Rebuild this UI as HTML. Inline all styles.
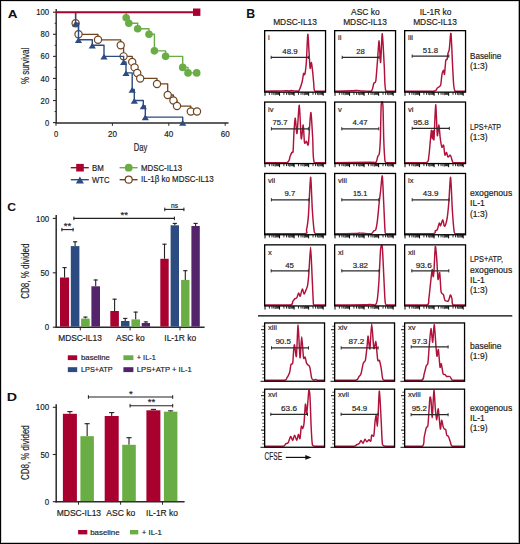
<!DOCTYPE html><html><head><meta charset="utf-8"><style>html,body{margin:0;padding:0;background:#fff;}svg{display:block;}text{font-family:"Liberation Sans",sans-serif;}</style></head><body>
<svg width="520" height="544" viewBox="0 0 520 544">
<rect x="0" y="0" width="520" height="544" fill="#fff"/>
<text x="7.7" y="17.8" font-size="11.8" textLength="9.8" lengthAdjust="spacingAndGlyphs" font-weight="bold" fill="#111">A</text>
<line x1="56.2" y1="9" x2="56.2" y2="123.2" stroke="#2a2a2a" stroke-width="1.4"/>
<line x1="55.5" y1="123" x2="228.5" y2="123" stroke="#2a2a2a" stroke-width="1.4"/>
<line x1="53" y1="122.6" x2="56.2" y2="122.6" stroke="#2a2a2a" stroke-width="1.1"/>
<text x="49.2" y="125.7" font-size="8.6" text-anchor="end" textLength="4.2" lengthAdjust="spacingAndGlyphs" fill="#1c1c1c" stroke="#1c1c1c" stroke-width="0.18">0</text>
<line x1="54.6" y1="111.56" x2="56.2" y2="111.56" stroke="#2a2a2a" stroke-width="1"/>
<line x1="53" y1="100.52" x2="56.2" y2="100.52" stroke="#2a2a2a" stroke-width="1.1"/>
<text x="49.2" y="103.62" font-size="8.6" text-anchor="end" textLength="8.6" lengthAdjust="spacingAndGlyphs" fill="#1c1c1c" stroke="#1c1c1c" stroke-width="0.18">20</text>
<line x1="54.6" y1="89.48" x2="56.2" y2="89.48" stroke="#2a2a2a" stroke-width="1"/>
<line x1="53" y1="78.44" x2="56.2" y2="78.44" stroke="#2a2a2a" stroke-width="1.1"/>
<text x="49.2" y="81.54" font-size="8.6" text-anchor="end" textLength="8.6" lengthAdjust="spacingAndGlyphs" fill="#1c1c1c" stroke="#1c1c1c" stroke-width="0.18">40</text>
<line x1="54.6" y1="67.4" x2="56.2" y2="67.4" stroke="#2a2a2a" stroke-width="1"/>
<line x1="53" y1="56.36" x2="56.2" y2="56.36" stroke="#2a2a2a" stroke-width="1.1"/>
<text x="49.2" y="59.46" font-size="8.6" text-anchor="end" textLength="8.6" lengthAdjust="spacingAndGlyphs" fill="#1c1c1c" stroke="#1c1c1c" stroke-width="0.18">60</text>
<line x1="54.6" y1="45.32" x2="56.2" y2="45.32" stroke="#2a2a2a" stroke-width="1"/>
<line x1="53" y1="34.28" x2="56.2" y2="34.28" stroke="#2a2a2a" stroke-width="1.1"/>
<text x="49.2" y="37.38" font-size="8.6" text-anchor="end" textLength="8.6" lengthAdjust="spacingAndGlyphs" fill="#1c1c1c" stroke="#1c1c1c" stroke-width="0.18">80</text>
<line x1="54.6" y1="23.24" x2="56.2" y2="23.24" stroke="#2a2a2a" stroke-width="1"/>
<line x1="53" y1="12.2" x2="56.2" y2="12.2" stroke="#2a2a2a" stroke-width="1.1"/>
<text x="49.2" y="15.3" font-size="8.6" text-anchor="end" textLength="13" lengthAdjust="spacingAndGlyphs" fill="#1c1c1c" stroke="#1c1c1c" stroke-width="0.18">100</text>
<line x1="56" y1="123" x2="56" y2="125.8" stroke="#2a2a2a" stroke-width="1"/>
<text x="56" y="136.8" font-size="8.4" text-anchor="middle" textLength="4.2" lengthAdjust="spacingAndGlyphs" fill="#1c1c1c" stroke="#1c1c1c" stroke-width="0.18">0</text>
<line x1="112.4" y1="123" x2="112.4" y2="125.8" stroke="#2a2a2a" stroke-width="1"/>
<text x="112.4" y="136.8" font-size="8.4" text-anchor="middle" textLength="9" lengthAdjust="spacingAndGlyphs" fill="#1c1c1c" stroke="#1c1c1c" stroke-width="0.18">20</text>
<line x1="168.8" y1="123" x2="168.8" y2="125.8" stroke="#2a2a2a" stroke-width="1"/>
<text x="168.8" y="136.8" font-size="8.4" text-anchor="middle" textLength="9" lengthAdjust="spacingAndGlyphs" fill="#1c1c1c" stroke="#1c1c1c" stroke-width="0.18">40</text>
<line x1="225.2" y1="123" x2="225.2" y2="125.8" stroke="#2a2a2a" stroke-width="1"/>
<text x="225.2" y="136.8" font-size="8.4" text-anchor="middle" textLength="9" lengthAdjust="spacingAndGlyphs" fill="#1c1c1c" stroke="#1c1c1c" stroke-width="0.18">60</text>
<text x="140.5" y="150.7" font-size="10.2" text-anchor="middle" textLength="13.5" lengthAdjust="spacingAndGlyphs" fill="#1c1c1c" stroke="#1c1c1c" stroke-width="0.18">Day</text>
<text transform="translate(29.3,65.9) rotate(-90)" font-size="10.4" text-anchor="middle" fill="#1c1c1c" stroke="#1c1c1c" stroke-width="0.18" textLength="36.4" lengthAdjust="spacingAndGlyphs">% survival</text>
<polyline points="75.6,12.2 75.6,23.24 78.5,23.24 78.5,34.28 98,34.28 98,39.8 120.7,39.8 120.7,45.32 123.6,45.32 123.6,56.36 132.2,56.36 132.2,61.88 134.6,61.88 134.6,67.4 137.2,67.4 137.2,72.92 140.2,72.92 140.2,78.44 157,78.44 157,83.96 167.7,83.96 167.7,95 173.4,95 173.4,100.52 177,100.52 177,106.04 190.8,106.04 190.8,111.56 197,111.56" fill="none" stroke="#6f4520" stroke-width="1.3" stroke-linejoin="round"/>
<circle cx="75.6" cy="23.24" r="3.6" fill="#fff" stroke="#6f4520" stroke-width="1.2"/>
<circle cx="78.5" cy="34.28" r="3.6" fill="#fff" stroke="#6f4520" stroke-width="1.2"/>
<circle cx="98" cy="39.8" r="3.6" fill="#fff" stroke="#6f4520" stroke-width="1.2"/>
<circle cx="120.7" cy="45.32" r="3.6" fill="#fff" stroke="#6f4520" stroke-width="1.2"/>
<circle cx="123.6" cy="56.36" r="3.6" fill="#fff" stroke="#6f4520" stroke-width="1.2"/>
<circle cx="132.2" cy="61.88" r="3.6" fill="#fff" stroke="#6f4520" stroke-width="1.2"/>
<circle cx="134.6" cy="67.4" r="3.6" fill="#fff" stroke="#6f4520" stroke-width="1.2"/>
<circle cx="137.2" cy="72.92" r="3.6" fill="#fff" stroke="#6f4520" stroke-width="1.2"/>
<circle cx="140.2" cy="78.44" r="3.6" fill="#fff" stroke="#6f4520" stroke-width="1.2"/>
<circle cx="157" cy="83.96" r="3.6" fill="#fff" stroke="#6f4520" stroke-width="1.2"/>
<circle cx="167.7" cy="95" r="3.6" fill="#fff" stroke="#6f4520" stroke-width="1.2"/>
<circle cx="173.4" cy="100.52" r="3.6" fill="#fff" stroke="#6f4520" stroke-width="1.2"/>
<circle cx="177" cy="106.04" r="3.6" fill="#fff" stroke="#6f4520" stroke-width="1.2"/>
<circle cx="190.8" cy="111.56" r="3.6" fill="#fff" stroke="#6f4520" stroke-width="1.2"/>
<circle cx="197" cy="111.56" r="3.6" fill="#fff" stroke="#6f4520" stroke-width="1.2"/>
<polyline points="75.6,12.2 75.6,23.24 78.5,23.24 78.5,39.8 92.3,39.8 92.3,45.32 104,45.32 104,56.36 123.6,56.36 123.6,61.88 126,61.88 126,72.92 132.2,72.92 132.2,89.48 134.3,89.48 134.3,100.52 143.3,100.52 143.3,106.04 145.3,106.04 145.3,117.08 182.7,117.08 182.7,122.6" fill="none" stroke="#2c4b80" stroke-width="1.4" stroke-linejoin="round"/>
<polygon points="72,26.44 79.2,26.44 75.6,20.74" fill="#2c4b80"/>
<polygon points="74.9,43 82.1,43 78.5,37.3" fill="#2c4b80"/>
<polygon points="88.7,48.52 95.9,48.52 92.3,42.82" fill="#2c4b80"/>
<polygon points="100.4,59.56 107.6,59.56 104,53.86" fill="#2c4b80"/>
<polygon points="120,65.08 127.2,65.08 123.6,59.38" fill="#2c4b80"/>
<polygon points="122.4,76.12 129.6,76.12 126,70.42" fill="#2c4b80"/>
<polygon points="128.6,92.68 135.8,92.68 132.2,86.98" fill="#2c4b80"/>
<polygon points="130.7,103.72 137.9,103.72 134.3,98.02" fill="#2c4b80"/>
<polygon points="139.7,109.24 146.9,109.24 143.3,103.54" fill="#2c4b80"/>
<polygon points="141.7,120.28 148.9,120.28 145.3,114.58" fill="#2c4b80"/>
<polygon points="179.1,125.8 186.3,125.8 182.7,120.1" fill="#2c4b80"/>
<polyline points="126.2,12.2 126.2,17.72 128.8,17.72 128.8,23.24 137.7,23.24 137.7,28.76 149,28.76 149,34.28 154.4,34.28 154.4,50.84 165.6,50.84 165.6,56.36 182.7,56.36 182.7,67.4 188,67.4 188,72.92 196.7,72.92" fill="none" stroke="#6aad45" stroke-width="1.4" stroke-linejoin="round"/>
<circle cx="126.2" cy="17.72" r="3.8" fill="#6aad45"/>
<circle cx="128.8" cy="23.24" r="3.8" fill="#6aad45"/>
<circle cx="137.7" cy="28.76" r="3.8" fill="#6aad45"/>
<circle cx="149" cy="34.28" r="3.8" fill="#6aad45"/>
<circle cx="154.4" cy="50.84" r="3.8" fill="#6aad45"/>
<circle cx="165.6" cy="56.36" r="3.8" fill="#6aad45"/>
<circle cx="182.7" cy="67.4" r="3.8" fill="#6aad45"/>
<circle cx="188" cy="72.92" r="3.8" fill="#6aad45"/>
<circle cx="196.7" cy="72.92" r="3.8" fill="#6aad45"/>
<line x1="56.2" y1="12.2" x2="196.7" y2="12.2" stroke="#a8002f" stroke-width="1.9"/>
<rect x="193" y="8.5" width="7.4" height="7.4" fill="#a8002f"/>
<line x1="70.8" y1="167.7" x2="88.8" y2="167.7" stroke="#a8002f" stroke-width="1.4"/>
<rect x="76.2" y="163.9" width="7.6" height="7.6" fill="#a8002f"/>
<text x="92" y="170.9" font-size="8.6" textLength="11.8" lengthAdjust="spacingAndGlyphs" fill="#1c1c1c" stroke="#1c1c1c" stroke-width="0.18">BM</text>
<line x1="70.8" y1="179.7" x2="88.8" y2="179.7" stroke="#2c4b80" stroke-width="1.4"/>
<polygon points="75.9,183.6 83.9,183.6 79.9,176.5" fill="#2c4b80"/>
<text x="92" y="182.9" font-size="8.6" textLength="17.6" lengthAdjust="spacingAndGlyphs" fill="#1c1c1c" stroke="#1c1c1c" stroke-width="0.18">WTC</text>
<line x1="119.6" y1="167.7" x2="137.6" y2="167.7" stroke="#6aad45" stroke-width="1.4"/>
<circle cx="128.7" cy="167.7" r="3.9" fill="#6aad45"/>
<text x="141" y="170.7" font-size="8.6" textLength="41" lengthAdjust="spacingAndGlyphs" fill="#1c1c1c" stroke="#1c1c1c" stroke-width="0.18">MDSC-IL13</text>
<line x1="119.6" y1="179.7" x2="137.6" y2="179.7" stroke="#6f4520" stroke-width="1.4"/>
<circle cx="128.7" cy="179.7" r="3.5" fill="#fff" stroke="#6f4520" stroke-width="1.2"/>
<text x="141" y="182" font-size="8.6" textLength="72.7" lengthAdjust="spacingAndGlyphs" fill="#1c1c1c" stroke="#1c1c1c" stroke-width="0.18">IL-1β ko MDSC-IL13</text>
<text x="246.3" y="17.6" font-size="12" textLength="8.9" lengthAdjust="spacingAndGlyphs" font-weight="bold" fill="#111">B</text>
<text x="295" y="25" font-size="8.6" text-anchor="middle" textLength="43.7" lengthAdjust="spacingAndGlyphs" fill="#1c1c1c" stroke="#1c1c1c" stroke-width="0.18">MDSC-IL13</text>
<text x="365.4" y="14.8" font-size="8.6" text-anchor="middle" textLength="28.6" lengthAdjust="spacingAndGlyphs" fill="#1c1c1c" stroke="#1c1c1c" stroke-width="0.18">ASC ko</text>
<text x="365" y="25" font-size="8.6" text-anchor="middle" textLength="43.7" lengthAdjust="spacingAndGlyphs" fill="#1c1c1c" stroke="#1c1c1c" stroke-width="0.18">MDSC-IL13</text>
<text x="435.6" y="14.8" font-size="8.6" text-anchor="middle" textLength="31.6" lengthAdjust="spacingAndGlyphs" fill="#1c1c1c" stroke="#1c1c1c" stroke-width="0.18">IL-1R ko</text>
<text x="435" y="25" font-size="8.6" text-anchor="middle" textLength="43.7" lengthAdjust="spacingAndGlyphs" fill="#1c1c1c" stroke="#1c1c1c" stroke-width="0.18">MDSC-IL13</text>
<text x="470" y="58.9" font-size="8.6" textLength="31.3" lengthAdjust="spacingAndGlyphs" fill="#1c1c1c" stroke="#1c1c1c" stroke-width="0.18">Baseline</text>
<text x="470" y="69.2" font-size="8.6" textLength="17.5" lengthAdjust="spacingAndGlyphs" fill="#1c1c1c" stroke="#1c1c1c" stroke-width="0.18">(1:3)</text>
<text x="470" y="130" font-size="8.6" textLength="31" lengthAdjust="spacingAndGlyphs" fill="#1c1c1c" stroke="#1c1c1c" stroke-width="0.18">LPS+ATP</text>
<text x="470" y="140.3" font-size="8.6" textLength="17.5" lengthAdjust="spacingAndGlyphs" fill="#1c1c1c" stroke="#1c1c1c" stroke-width="0.18">(1:3)</text>
<text x="470" y="195.9" font-size="8.6" textLength="42.2" lengthAdjust="spacingAndGlyphs" fill="#1c1c1c" stroke="#1c1c1c" stroke-width="0.18">exogenous</text>
<text x="470" y="206.2" font-size="8.6" textLength="14.8" lengthAdjust="spacingAndGlyphs" fill="#1c1c1c" stroke="#1c1c1c" stroke-width="0.18">IL-1</text>
<text x="470" y="216.5" font-size="8.6" textLength="17.5" lengthAdjust="spacingAndGlyphs" fill="#1c1c1c" stroke="#1c1c1c" stroke-width="0.18">(1:3)</text>
<text x="470" y="262.4" font-size="8.6" textLength="33" lengthAdjust="spacingAndGlyphs" fill="#1c1c1c" stroke="#1c1c1c" stroke-width="0.18">LPS+ATP,</text>
<text x="470" y="272.7" font-size="8.6" textLength="42.2" lengthAdjust="spacingAndGlyphs" fill="#1c1c1c" stroke="#1c1c1c" stroke-width="0.18">exogenous</text>
<text x="470" y="283" font-size="8.6" textLength="14.8" lengthAdjust="spacingAndGlyphs" fill="#1c1c1c" stroke="#1c1c1c" stroke-width="0.18">IL-1</text>
<text x="470" y="293.3" font-size="8.6" textLength="17.5" lengthAdjust="spacingAndGlyphs" fill="#1c1c1c" stroke="#1c1c1c" stroke-width="0.18">(1:3)</text>
<text x="470" y="349" font-size="8.6" textLength="31.5" lengthAdjust="spacingAndGlyphs" fill="#1c1c1c" stroke="#1c1c1c" stroke-width="0.18">baseline</text>
<text x="470" y="359.3" font-size="8.6" textLength="17.5" lengthAdjust="spacingAndGlyphs" fill="#1c1c1c" stroke="#1c1c1c" stroke-width="0.18">(1:9)</text>
<text x="470" y="410.6" font-size="8.6" textLength="42.2" lengthAdjust="spacingAndGlyphs" fill="#1c1c1c" stroke="#1c1c1c" stroke-width="0.18">exogenous</text>
<text x="470" y="420.9" font-size="8.6" textLength="14.8" lengthAdjust="spacingAndGlyphs" fill="#1c1c1c" stroke="#1c1c1c" stroke-width="0.18">IL-1</text>
<text x="470" y="431.2" font-size="8.6" textLength="17.5" lengthAdjust="spacingAndGlyphs" fill="#1c1c1c" stroke="#1c1c1c" stroke-width="0.18">(1:9)</text>
<line x1="258" y1="315.8" x2="512.3" y2="315.8" stroke="#000" stroke-width="1.2"/>
<path d="M265,91.2 C267.27,91.16 279.2,90.98 282,90.9 C284.8,90.82 285.07,90.6 286,90.6 C286.93,90.6 288.2,90.9 289,90.9 C289.8,90.9 291.07,90.59 292,90.6 C292.93,90.61 295.12,90.92 296,91 C296.88,91.08 297.81,91.2 298.6,91.2 C299.39,90.11 301.23,85.15 301.9,82.8 C302.57,80.45 303.2,74.75 303.6,73.6 C304,72.45 304.53,75.85 304.9,74.2 C305.27,72.55 306.01,66.53 306.4,61.2 C306.79,55.87 307.45,35.53 307.8,34.2 C308.15,32.87 308.69,46.67 309,51.2 C309.31,55.73 309.78,66.69 310.1,68.2 C310.42,69.71 311.07,62.1 311.4,62.5 C311.73,62.9 312.29,68.49 312.6,71.2 C312.91,73.91 313.38,80.13 313.7,82.8 C314.02,85.47 313.47,90.08 315,91.2 C316.53,91.2 323.84,91.2 325.2,91.2" fill="none" stroke="#b0123c" stroke-width="1.45" stroke-linejoin="round"/>
<rect x="264.65" y="30.65" width="60.9" height="61.5" fill="none" stroke="#000" stroke-width="1.3"/>
<line x1="265" y1="92.3" x2="265" y2="95.8" stroke="#000" stroke-width="1"/>
<line x1="269.38" y1="92.3" x2="269.38" y2="94.8" stroke="#111" stroke-width="0.9"/>
<line x1="271.94" y1="92.3" x2="271.94" y2="94.8" stroke="#111" stroke-width="0.9"/>
<line x1="273.76" y1="92.3" x2="273.76" y2="94.8" stroke="#111" stroke-width="0.9"/>
<line x1="275.17" y1="92.3" x2="275.17" y2="95.2" stroke="#111" stroke-width="0.9"/>
<line x1="276.32" y1="92.3" x2="276.32" y2="94.8" stroke="#111" stroke-width="0.9"/>
<line x1="277.3" y1="92.3" x2="277.3" y2="94.8" stroke="#111" stroke-width="0.9"/>
<line x1="278.14" y1="92.3" x2="278.14" y2="94.8" stroke="#111" stroke-width="0.9"/>
<line x1="278.88" y1="92.3" x2="278.88" y2="94.8" stroke="#111" stroke-width="0.9"/>
<line x1="279.55" y1="92.3" x2="279.55" y2="95.8" stroke="#000" stroke-width="1"/>
<line x1="283.93" y1="92.3" x2="283.93" y2="94.8" stroke="#111" stroke-width="0.9"/>
<line x1="286.49" y1="92.3" x2="286.49" y2="94.8" stroke="#111" stroke-width="0.9"/>
<line x1="288.31" y1="92.3" x2="288.31" y2="94.8" stroke="#111" stroke-width="0.9"/>
<line x1="289.72" y1="92.3" x2="289.72" y2="95.2" stroke="#111" stroke-width="0.9"/>
<line x1="290.87" y1="92.3" x2="290.87" y2="94.8" stroke="#111" stroke-width="0.9"/>
<line x1="291.85" y1="92.3" x2="291.85" y2="94.8" stroke="#111" stroke-width="0.9"/>
<line x1="292.69" y1="92.3" x2="292.69" y2="94.8" stroke="#111" stroke-width="0.9"/>
<line x1="293.43" y1="92.3" x2="293.43" y2="94.8" stroke="#111" stroke-width="0.9"/>
<line x1="294.1" y1="92.3" x2="294.1" y2="95.8" stroke="#000" stroke-width="1"/>
<line x1="298.48" y1="92.3" x2="298.48" y2="94.8" stroke="#111" stroke-width="0.9"/>
<line x1="301.04" y1="92.3" x2="301.04" y2="94.8" stroke="#111" stroke-width="0.9"/>
<line x1="302.86" y1="92.3" x2="302.86" y2="94.8" stroke="#111" stroke-width="0.9"/>
<line x1="304.27" y1="92.3" x2="304.27" y2="95.2" stroke="#111" stroke-width="0.9"/>
<line x1="305.42" y1="92.3" x2="305.42" y2="94.8" stroke="#111" stroke-width="0.9"/>
<line x1="306.4" y1="92.3" x2="306.4" y2="94.8" stroke="#111" stroke-width="0.9"/>
<line x1="307.24" y1="92.3" x2="307.24" y2="94.8" stroke="#111" stroke-width="0.9"/>
<line x1="307.98" y1="92.3" x2="307.98" y2="94.8" stroke="#111" stroke-width="0.9"/>
<line x1="308.65" y1="92.3" x2="308.65" y2="95.8" stroke="#000" stroke-width="1"/>
<line x1="313.03" y1="92.3" x2="313.03" y2="94.8" stroke="#111" stroke-width="0.9"/>
<line x1="315.59" y1="92.3" x2="315.59" y2="94.8" stroke="#111" stroke-width="0.9"/>
<line x1="317.41" y1="92.3" x2="317.41" y2="94.8" stroke="#111" stroke-width="0.9"/>
<line x1="318.82" y1="92.3" x2="318.82" y2="95.2" stroke="#111" stroke-width="0.9"/>
<line x1="319.97" y1="92.3" x2="319.97" y2="94.8" stroke="#111" stroke-width="0.9"/>
<line x1="320.95" y1="92.3" x2="320.95" y2="94.8" stroke="#111" stroke-width="0.9"/>
<line x1="321.79" y1="92.3" x2="321.79" y2="94.8" stroke="#111" stroke-width="0.9"/>
<line x1="322.53" y1="92.3" x2="322.53" y2="94.8" stroke="#111" stroke-width="0.9"/>
<line x1="323.2" y1="92.3" x2="323.2" y2="95.8" stroke="#000" stroke-width="1"/>
<line x1="271.2" y1="57.4" x2="308.4" y2="57.4" stroke="#2a2a2a" stroke-width="1.2"/>
<line x1="271.2" y1="55.8" x2="271.2" y2="59" stroke="#2a2a2a" stroke-width="1"/>
<line x1="308.4" y1="55.8" x2="308.4" y2="59" stroke="#2a2a2a" stroke-width="1"/>
<text x="290" y="53.5" font-size="7.9" text-anchor="middle" textLength="15.3" lengthAdjust="spacingAndGlyphs" fill="#222" stroke="#222" stroke-width="0.18">48.9</text>
<text x="268" y="40.4" font-size="7.6" fill="#2a2a2a" stroke="#2a2a2a" stroke-width="0.18">i</text>
<path d="M335,91.2 C337.27,91.15 349.07,90.91 352,90.8 C354.93,90.69 355.67,90.39 357,90.4 C358.33,90.41 360.11,90.79 362,90.9 C363.89,91.01 369.63,91.2 371.2,91.2 C372.77,90.2 373.19,84.79 373.8,83.4 C374.41,82.01 375.31,83.85 375.8,80.8 C376.29,77.75 377.06,65.83 377.5,60.5 C377.94,55.17 378.69,40.53 379.1,40.8 C379.51,41.07 380.17,63.45 380.6,62.5 C381.03,61.55 381.81,33.1 382.3,33.7 C382.79,34.3 383.82,59.33 384.3,67 C384.78,74.67 384.45,87.97 385.9,91.2 C387.35,91.2 393.96,91.2 395.2,91.2" fill="none" stroke="#b0123c" stroke-width="1.45" stroke-linejoin="round"/>
<rect x="334.65" y="30.65" width="60.9" height="61.5" fill="none" stroke="#000" stroke-width="1.3"/>
<line x1="335" y1="92.3" x2="335" y2="95.8" stroke="#000" stroke-width="1"/>
<line x1="339.38" y1="92.3" x2="339.38" y2="94.8" stroke="#111" stroke-width="0.9"/>
<line x1="341.94" y1="92.3" x2="341.94" y2="94.8" stroke="#111" stroke-width="0.9"/>
<line x1="343.76" y1="92.3" x2="343.76" y2="94.8" stroke="#111" stroke-width="0.9"/>
<line x1="345.17" y1="92.3" x2="345.17" y2="95.2" stroke="#111" stroke-width="0.9"/>
<line x1="346.32" y1="92.3" x2="346.32" y2="94.8" stroke="#111" stroke-width="0.9"/>
<line x1="347.3" y1="92.3" x2="347.3" y2="94.8" stroke="#111" stroke-width="0.9"/>
<line x1="348.14" y1="92.3" x2="348.14" y2="94.8" stroke="#111" stroke-width="0.9"/>
<line x1="348.88" y1="92.3" x2="348.88" y2="94.8" stroke="#111" stroke-width="0.9"/>
<line x1="349.55" y1="92.3" x2="349.55" y2="95.8" stroke="#000" stroke-width="1"/>
<line x1="353.93" y1="92.3" x2="353.93" y2="94.8" stroke="#111" stroke-width="0.9"/>
<line x1="356.49" y1="92.3" x2="356.49" y2="94.8" stroke="#111" stroke-width="0.9"/>
<line x1="358.31" y1="92.3" x2="358.31" y2="94.8" stroke="#111" stroke-width="0.9"/>
<line x1="359.72" y1="92.3" x2="359.72" y2="95.2" stroke="#111" stroke-width="0.9"/>
<line x1="360.87" y1="92.3" x2="360.87" y2="94.8" stroke="#111" stroke-width="0.9"/>
<line x1="361.85" y1="92.3" x2="361.85" y2="94.8" stroke="#111" stroke-width="0.9"/>
<line x1="362.69" y1="92.3" x2="362.69" y2="94.8" stroke="#111" stroke-width="0.9"/>
<line x1="363.43" y1="92.3" x2="363.43" y2="94.8" stroke="#111" stroke-width="0.9"/>
<line x1="364.1" y1="92.3" x2="364.1" y2="95.8" stroke="#000" stroke-width="1"/>
<line x1="368.48" y1="92.3" x2="368.48" y2="94.8" stroke="#111" stroke-width="0.9"/>
<line x1="371.04" y1="92.3" x2="371.04" y2="94.8" stroke="#111" stroke-width="0.9"/>
<line x1="372.86" y1="92.3" x2="372.86" y2="94.8" stroke="#111" stroke-width="0.9"/>
<line x1="374.27" y1="92.3" x2="374.27" y2="95.2" stroke="#111" stroke-width="0.9"/>
<line x1="375.42" y1="92.3" x2="375.42" y2="94.8" stroke="#111" stroke-width="0.9"/>
<line x1="376.4" y1="92.3" x2="376.4" y2="94.8" stroke="#111" stroke-width="0.9"/>
<line x1="377.24" y1="92.3" x2="377.24" y2="94.8" stroke="#111" stroke-width="0.9"/>
<line x1="377.98" y1="92.3" x2="377.98" y2="94.8" stroke="#111" stroke-width="0.9"/>
<line x1="378.65" y1="92.3" x2="378.65" y2="95.8" stroke="#000" stroke-width="1"/>
<line x1="383.03" y1="92.3" x2="383.03" y2="94.8" stroke="#111" stroke-width="0.9"/>
<line x1="385.59" y1="92.3" x2="385.59" y2="94.8" stroke="#111" stroke-width="0.9"/>
<line x1="387.41" y1="92.3" x2="387.41" y2="94.8" stroke="#111" stroke-width="0.9"/>
<line x1="388.82" y1="92.3" x2="388.82" y2="95.2" stroke="#111" stroke-width="0.9"/>
<line x1="389.97" y1="92.3" x2="389.97" y2="94.8" stroke="#111" stroke-width="0.9"/>
<line x1="390.95" y1="92.3" x2="390.95" y2="94.8" stroke="#111" stroke-width="0.9"/>
<line x1="391.79" y1="92.3" x2="391.79" y2="94.8" stroke="#111" stroke-width="0.9"/>
<line x1="392.53" y1="92.3" x2="392.53" y2="94.8" stroke="#111" stroke-width="0.9"/>
<line x1="393.2" y1="92.3" x2="393.2" y2="95.8" stroke="#000" stroke-width="1"/>
<line x1="342.2" y1="57.4" x2="379.1" y2="57.4" stroke="#2a2a2a" stroke-width="1.2"/>
<line x1="342.2" y1="55.8" x2="342.2" y2="59" stroke="#2a2a2a" stroke-width="1"/>
<line x1="379.1" y1="55.8" x2="379.1" y2="59" stroke="#2a2a2a" stroke-width="1"/>
<text x="360.4" y="53.5" font-size="7.9" text-anchor="middle" textLength="8.5" lengthAdjust="spacingAndGlyphs" fill="#222" stroke="#222" stroke-width="0.18">28</text>
<text x="338" y="40.4" font-size="7.6" fill="#2a2a2a" stroke="#2a2a2a" stroke-width="0.18">ii</text>
<path d="M405,91.2 C408.79,91.2 429.09,91.2 433.4,91.2 C437.71,90.77 436.34,88.79 437.3,88 C438.26,87.21 439.99,87.06 440.6,85.3 C441.21,83.54 441.5,76.8 441.9,74.8 C442.3,72.8 443.25,70.38 443.6,70.3 C443.95,70.22 444.21,75.51 444.5,74.2 C444.79,72.89 445.45,62.5 445.8,60.5 C446.15,58.5 446.81,60.16 447.1,59.2 C447.39,58.24 447.71,54.61 448,53.3 C448.29,51.99 448.9,52.01 449.3,49.4 C449.7,46.79 450.51,30.47 451,33.7 C451.49,36.93 452.47,65.93 453,73.6 C453.53,81.27 453.37,88.85 455,91.2 C456.63,91.2 463.84,91.2 465.2,91.2" fill="none" stroke="#b0123c" stroke-width="1.45" stroke-linejoin="round"/>
<rect x="404.65" y="30.65" width="60.9" height="61.5" fill="none" stroke="#000" stroke-width="1.3"/>
<line x1="405" y1="92.3" x2="405" y2="95.8" stroke="#000" stroke-width="1"/>
<line x1="409.38" y1="92.3" x2="409.38" y2="94.8" stroke="#111" stroke-width="0.9"/>
<line x1="411.94" y1="92.3" x2="411.94" y2="94.8" stroke="#111" stroke-width="0.9"/>
<line x1="413.76" y1="92.3" x2="413.76" y2="94.8" stroke="#111" stroke-width="0.9"/>
<line x1="415.17" y1="92.3" x2="415.17" y2="95.2" stroke="#111" stroke-width="0.9"/>
<line x1="416.32" y1="92.3" x2="416.32" y2="94.8" stroke="#111" stroke-width="0.9"/>
<line x1="417.3" y1="92.3" x2="417.3" y2="94.8" stroke="#111" stroke-width="0.9"/>
<line x1="418.14" y1="92.3" x2="418.14" y2="94.8" stroke="#111" stroke-width="0.9"/>
<line x1="418.88" y1="92.3" x2="418.88" y2="94.8" stroke="#111" stroke-width="0.9"/>
<line x1="419.55" y1="92.3" x2="419.55" y2="95.8" stroke="#000" stroke-width="1"/>
<line x1="423.93" y1="92.3" x2="423.93" y2="94.8" stroke="#111" stroke-width="0.9"/>
<line x1="426.49" y1="92.3" x2="426.49" y2="94.8" stroke="#111" stroke-width="0.9"/>
<line x1="428.31" y1="92.3" x2="428.31" y2="94.8" stroke="#111" stroke-width="0.9"/>
<line x1="429.72" y1="92.3" x2="429.72" y2="95.2" stroke="#111" stroke-width="0.9"/>
<line x1="430.87" y1="92.3" x2="430.87" y2="94.8" stroke="#111" stroke-width="0.9"/>
<line x1="431.85" y1="92.3" x2="431.85" y2="94.8" stroke="#111" stroke-width="0.9"/>
<line x1="432.69" y1="92.3" x2="432.69" y2="94.8" stroke="#111" stroke-width="0.9"/>
<line x1="433.43" y1="92.3" x2="433.43" y2="94.8" stroke="#111" stroke-width="0.9"/>
<line x1="434.1" y1="92.3" x2="434.1" y2="95.8" stroke="#000" stroke-width="1"/>
<line x1="438.48" y1="92.3" x2="438.48" y2="94.8" stroke="#111" stroke-width="0.9"/>
<line x1="441.04" y1="92.3" x2="441.04" y2="94.8" stroke="#111" stroke-width="0.9"/>
<line x1="442.86" y1="92.3" x2="442.86" y2="94.8" stroke="#111" stroke-width="0.9"/>
<line x1="444.27" y1="92.3" x2="444.27" y2="95.2" stroke="#111" stroke-width="0.9"/>
<line x1="445.42" y1="92.3" x2="445.42" y2="94.8" stroke="#111" stroke-width="0.9"/>
<line x1="446.4" y1="92.3" x2="446.4" y2="94.8" stroke="#111" stroke-width="0.9"/>
<line x1="447.24" y1="92.3" x2="447.24" y2="94.8" stroke="#111" stroke-width="0.9"/>
<line x1="447.98" y1="92.3" x2="447.98" y2="94.8" stroke="#111" stroke-width="0.9"/>
<line x1="448.65" y1="92.3" x2="448.65" y2="95.8" stroke="#000" stroke-width="1"/>
<line x1="453.03" y1="92.3" x2="453.03" y2="94.8" stroke="#111" stroke-width="0.9"/>
<line x1="455.59" y1="92.3" x2="455.59" y2="94.8" stroke="#111" stroke-width="0.9"/>
<line x1="457.41" y1="92.3" x2="457.41" y2="94.8" stroke="#111" stroke-width="0.9"/>
<line x1="458.82" y1="92.3" x2="458.82" y2="95.2" stroke="#111" stroke-width="0.9"/>
<line x1="459.97" y1="92.3" x2="459.97" y2="94.8" stroke="#111" stroke-width="0.9"/>
<line x1="460.95" y1="92.3" x2="460.95" y2="94.8" stroke="#111" stroke-width="0.9"/>
<line x1="461.79" y1="92.3" x2="461.79" y2="94.8" stroke="#111" stroke-width="0.9"/>
<line x1="462.53" y1="92.3" x2="462.53" y2="94.8" stroke="#111" stroke-width="0.9"/>
<line x1="463.2" y1="92.3" x2="463.2" y2="95.8" stroke="#000" stroke-width="1"/>
<line x1="412.2" y1="56.1" x2="448.8" y2="56.1" stroke="#2a2a2a" stroke-width="1.2"/>
<line x1="412.2" y1="54.5" x2="412.2" y2="57.7" stroke="#2a2a2a" stroke-width="1"/>
<line x1="448.8" y1="54.5" x2="448.8" y2="57.7" stroke="#2a2a2a" stroke-width="1"/>
<text x="430.4" y="52.6" font-size="7.9" text-anchor="middle" textLength="15.1" lengthAdjust="spacingAndGlyphs" fill="#222" stroke="#222" stroke-width="0.18">51.8</text>
<text x="408" y="40.4" font-size="7.6" fill="#2a2a2a" stroke="#2a2a2a" stroke-width="0.18">iii</text>
<path d="M265,162.6 C267.91,162.6 283.45,162.6 286.8,162.6 C290.15,161.76 289.43,157.66 290.1,156.3 C290.77,154.94 291.4,153.09 291.8,152.4 C292.2,151.71 292.81,153.89 293.1,151.1 C293.39,148.31 293.71,135.89 294,131.5 C294.29,127.11 294.9,117.93 295.3,118.2 C295.7,118.47 296.47,135.22 297,133.5 C297.53,131.78 298.74,104.61 299.3,105.3 C299.86,105.99 300.68,136.07 301.2,138.7 C301.72,141.33 302.76,124.48 303.2,125 C303.64,125.52 304.06,140.43 304.5,142.6 C304.94,144.77 305.98,141.13 306.5,141.3 C307.02,141.47 307.83,147.74 308.4,143.9 C308.97,140.06 310.23,113.29 310.8,112.5 C311.37,111.71 312.23,131.32 312.7,138 C313.17,144.68 312.63,159.32 314.3,162.6 C315.97,162.6 323.75,162.6 325.2,162.6" fill="none" stroke="#b0123c" stroke-width="1.45" stroke-linejoin="round"/>
<rect x="264.65" y="102.05" width="60.9" height="61.5" fill="none" stroke="#000" stroke-width="1.3"/>
<line x1="265" y1="163.7" x2="265" y2="167.2" stroke="#000" stroke-width="1"/>
<line x1="269.38" y1="163.7" x2="269.38" y2="166.2" stroke="#111" stroke-width="0.9"/>
<line x1="271.94" y1="163.7" x2="271.94" y2="166.2" stroke="#111" stroke-width="0.9"/>
<line x1="273.76" y1="163.7" x2="273.76" y2="166.2" stroke="#111" stroke-width="0.9"/>
<line x1="275.17" y1="163.7" x2="275.17" y2="166.6" stroke="#111" stroke-width="0.9"/>
<line x1="276.32" y1="163.7" x2="276.32" y2="166.2" stroke="#111" stroke-width="0.9"/>
<line x1="277.3" y1="163.7" x2="277.3" y2="166.2" stroke="#111" stroke-width="0.9"/>
<line x1="278.14" y1="163.7" x2="278.14" y2="166.2" stroke="#111" stroke-width="0.9"/>
<line x1="278.88" y1="163.7" x2="278.88" y2="166.2" stroke="#111" stroke-width="0.9"/>
<line x1="279.55" y1="163.7" x2="279.55" y2="167.2" stroke="#000" stroke-width="1"/>
<line x1="283.93" y1="163.7" x2="283.93" y2="166.2" stroke="#111" stroke-width="0.9"/>
<line x1="286.49" y1="163.7" x2="286.49" y2="166.2" stroke="#111" stroke-width="0.9"/>
<line x1="288.31" y1="163.7" x2="288.31" y2="166.2" stroke="#111" stroke-width="0.9"/>
<line x1="289.72" y1="163.7" x2="289.72" y2="166.6" stroke="#111" stroke-width="0.9"/>
<line x1="290.87" y1="163.7" x2="290.87" y2="166.2" stroke="#111" stroke-width="0.9"/>
<line x1="291.85" y1="163.7" x2="291.85" y2="166.2" stroke="#111" stroke-width="0.9"/>
<line x1="292.69" y1="163.7" x2="292.69" y2="166.2" stroke="#111" stroke-width="0.9"/>
<line x1="293.43" y1="163.7" x2="293.43" y2="166.2" stroke="#111" stroke-width="0.9"/>
<line x1="294.1" y1="163.7" x2="294.1" y2="167.2" stroke="#000" stroke-width="1"/>
<line x1="298.48" y1="163.7" x2="298.48" y2="166.2" stroke="#111" stroke-width="0.9"/>
<line x1="301.04" y1="163.7" x2="301.04" y2="166.2" stroke="#111" stroke-width="0.9"/>
<line x1="302.86" y1="163.7" x2="302.86" y2="166.2" stroke="#111" stroke-width="0.9"/>
<line x1="304.27" y1="163.7" x2="304.27" y2="166.6" stroke="#111" stroke-width="0.9"/>
<line x1="305.42" y1="163.7" x2="305.42" y2="166.2" stroke="#111" stroke-width="0.9"/>
<line x1="306.4" y1="163.7" x2="306.4" y2="166.2" stroke="#111" stroke-width="0.9"/>
<line x1="307.24" y1="163.7" x2="307.24" y2="166.2" stroke="#111" stroke-width="0.9"/>
<line x1="307.98" y1="163.7" x2="307.98" y2="166.2" stroke="#111" stroke-width="0.9"/>
<line x1="308.65" y1="163.7" x2="308.65" y2="167.2" stroke="#000" stroke-width="1"/>
<line x1="313.03" y1="163.7" x2="313.03" y2="166.2" stroke="#111" stroke-width="0.9"/>
<line x1="315.59" y1="163.7" x2="315.59" y2="166.2" stroke="#111" stroke-width="0.9"/>
<line x1="317.41" y1="163.7" x2="317.41" y2="166.2" stroke="#111" stroke-width="0.9"/>
<line x1="318.82" y1="163.7" x2="318.82" y2="166.6" stroke="#111" stroke-width="0.9"/>
<line x1="319.97" y1="163.7" x2="319.97" y2="166.2" stroke="#111" stroke-width="0.9"/>
<line x1="320.95" y1="163.7" x2="320.95" y2="166.2" stroke="#111" stroke-width="0.9"/>
<line x1="321.79" y1="163.7" x2="321.79" y2="166.2" stroke="#111" stroke-width="0.9"/>
<line x1="322.53" y1="163.7" x2="322.53" y2="166.2" stroke="#111" stroke-width="0.9"/>
<line x1="323.2" y1="163.7" x2="323.2" y2="167.2" stroke="#000" stroke-width="1"/>
<line x1="271.4" y1="128.8" x2="308.4" y2="128.8" stroke="#2a2a2a" stroke-width="1.2"/>
<line x1="271.4" y1="127.2" x2="271.4" y2="130.4" stroke="#2a2a2a" stroke-width="1"/>
<line x1="308.4" y1="127.2" x2="308.4" y2="130.4" stroke="#2a2a2a" stroke-width="1"/>
<text x="280" y="124.9" font-size="7.9" text-anchor="middle" textLength="15" lengthAdjust="spacingAndGlyphs" fill="#222" stroke="#222" stroke-width="0.18">75.7</text>
<text x="268" y="111.8" font-size="7.6" fill="#2a2a2a" stroke="#2a2a2a" stroke-width="0.18">iv</text>
<path d="M335,162.6 C339.67,162.56 364.56,162.3 370,162.3 C375.44,162.3 374.76,162.6 375.8,162.6 C376.84,161.8 377.33,157.49 377.8,156.3 C378.27,155.11 378.95,156.14 379.3,153.7 C379.65,151.26 380.15,144.48 380.4,138 C380.65,131.52 380.87,109.49 381.2,105.1 C381.53,100.71 382.57,100.71 382.9,105.1 C383.23,109.49 383.47,131.17 383.7,138 C383.93,144.83 384.31,153.02 384.6,156.3 C384.89,159.58 384.49,161.76 385.9,162.6 C387.31,162.6 393.96,162.6 395.2,162.6" fill="none" stroke="#b0123c" stroke-width="1.45" stroke-linejoin="round"/>
<rect x="334.65" y="102.05" width="60.9" height="61.5" fill="none" stroke="#000" stroke-width="1.3"/>
<line x1="335" y1="163.7" x2="335" y2="167.2" stroke="#000" stroke-width="1"/>
<line x1="339.38" y1="163.7" x2="339.38" y2="166.2" stroke="#111" stroke-width="0.9"/>
<line x1="341.94" y1="163.7" x2="341.94" y2="166.2" stroke="#111" stroke-width="0.9"/>
<line x1="343.76" y1="163.7" x2="343.76" y2="166.2" stroke="#111" stroke-width="0.9"/>
<line x1="345.17" y1="163.7" x2="345.17" y2="166.6" stroke="#111" stroke-width="0.9"/>
<line x1="346.32" y1="163.7" x2="346.32" y2="166.2" stroke="#111" stroke-width="0.9"/>
<line x1="347.3" y1="163.7" x2="347.3" y2="166.2" stroke="#111" stroke-width="0.9"/>
<line x1="348.14" y1="163.7" x2="348.14" y2="166.2" stroke="#111" stroke-width="0.9"/>
<line x1="348.88" y1="163.7" x2="348.88" y2="166.2" stroke="#111" stroke-width="0.9"/>
<line x1="349.55" y1="163.7" x2="349.55" y2="167.2" stroke="#000" stroke-width="1"/>
<line x1="353.93" y1="163.7" x2="353.93" y2="166.2" stroke="#111" stroke-width="0.9"/>
<line x1="356.49" y1="163.7" x2="356.49" y2="166.2" stroke="#111" stroke-width="0.9"/>
<line x1="358.31" y1="163.7" x2="358.31" y2="166.2" stroke="#111" stroke-width="0.9"/>
<line x1="359.72" y1="163.7" x2="359.72" y2="166.6" stroke="#111" stroke-width="0.9"/>
<line x1="360.87" y1="163.7" x2="360.87" y2="166.2" stroke="#111" stroke-width="0.9"/>
<line x1="361.85" y1="163.7" x2="361.85" y2="166.2" stroke="#111" stroke-width="0.9"/>
<line x1="362.69" y1="163.7" x2="362.69" y2="166.2" stroke="#111" stroke-width="0.9"/>
<line x1="363.43" y1="163.7" x2="363.43" y2="166.2" stroke="#111" stroke-width="0.9"/>
<line x1="364.1" y1="163.7" x2="364.1" y2="167.2" stroke="#000" stroke-width="1"/>
<line x1="368.48" y1="163.7" x2="368.48" y2="166.2" stroke="#111" stroke-width="0.9"/>
<line x1="371.04" y1="163.7" x2="371.04" y2="166.2" stroke="#111" stroke-width="0.9"/>
<line x1="372.86" y1="163.7" x2="372.86" y2="166.2" stroke="#111" stroke-width="0.9"/>
<line x1="374.27" y1="163.7" x2="374.27" y2="166.6" stroke="#111" stroke-width="0.9"/>
<line x1="375.42" y1="163.7" x2="375.42" y2="166.2" stroke="#111" stroke-width="0.9"/>
<line x1="376.4" y1="163.7" x2="376.4" y2="166.2" stroke="#111" stroke-width="0.9"/>
<line x1="377.24" y1="163.7" x2="377.24" y2="166.2" stroke="#111" stroke-width="0.9"/>
<line x1="377.98" y1="163.7" x2="377.98" y2="166.2" stroke="#111" stroke-width="0.9"/>
<line x1="378.65" y1="163.7" x2="378.65" y2="167.2" stroke="#000" stroke-width="1"/>
<line x1="383.03" y1="163.7" x2="383.03" y2="166.2" stroke="#111" stroke-width="0.9"/>
<line x1="385.59" y1="163.7" x2="385.59" y2="166.2" stroke="#111" stroke-width="0.9"/>
<line x1="387.41" y1="163.7" x2="387.41" y2="166.2" stroke="#111" stroke-width="0.9"/>
<line x1="388.82" y1="163.7" x2="388.82" y2="166.6" stroke="#111" stroke-width="0.9"/>
<line x1="389.97" y1="163.7" x2="389.97" y2="166.2" stroke="#111" stroke-width="0.9"/>
<line x1="390.95" y1="163.7" x2="390.95" y2="166.2" stroke="#111" stroke-width="0.9"/>
<line x1="391.79" y1="163.7" x2="391.79" y2="166.2" stroke="#111" stroke-width="0.9"/>
<line x1="392.53" y1="163.7" x2="392.53" y2="166.2" stroke="#111" stroke-width="0.9"/>
<line x1="393.2" y1="163.7" x2="393.2" y2="167.2" stroke="#000" stroke-width="1"/>
<line x1="341.8" y1="128.8" x2="378.8" y2="128.8" stroke="#2a2a2a" stroke-width="1.2"/>
<line x1="341.8" y1="127.2" x2="341.8" y2="130.4" stroke="#2a2a2a" stroke-width="1"/>
<line x1="378.8" y1="127.2" x2="378.8" y2="130.4" stroke="#2a2a2a" stroke-width="1"/>
<text x="360" y="124.9" font-size="7.9" text-anchor="middle" textLength="15.1" lengthAdjust="spacingAndGlyphs" fill="#222" stroke="#222" stroke-width="0.18">4.47</text>
<text x="338" y="111.8" font-size="7.6" fill="#2a2a2a" stroke="#2a2a2a" stroke-width="0.18">v</text>
<path d="M405,162.6 C407.83,162.6 423.03,162.6 426.2,162.6 C429.37,161.76 428.28,158.87 428.8,156.3 C429.32,153.73 429.75,146.78 430.1,143.3 C430.45,139.82 431.11,130.81 431.4,130.2 C431.69,129.59 432.07,138.62 432.3,138.7 C432.53,138.78 432.87,130.72 433.1,130.8 C433.33,130.88 433.65,142.78 434,139.3 C434.35,135.82 435.26,105.22 435.7,104.7 C436.14,104.18 436.87,132.69 437.3,135.4 C437.73,138.11 438.51,124.65 438.9,125 C439.29,125.35 439.8,135.04 440.2,138 C440.6,140.96 441.45,146.24 441.9,147.2 C442.35,148.16 443.2,144.16 443.6,145.2 C444,146.24 444.51,154.04 444.9,155 C445.29,155.96 446.09,152.13 446.5,152.4 C446.91,152.67 447.48,156.61 448,157 C448.52,157.39 449.83,154.78 450.4,155.3 C450.97,155.82 451.86,159.93 452.3,160.9 C452.74,161.87 451.98,162.37 453.7,162.6 C455.42,162.6 463.67,162.6 465.2,162.6" fill="none" stroke="#b0123c" stroke-width="1.45" stroke-linejoin="round"/>
<rect x="404.65" y="102.05" width="60.9" height="61.5" fill="none" stroke="#000" stroke-width="1.3"/>
<line x1="405" y1="163.7" x2="405" y2="167.2" stroke="#000" stroke-width="1"/>
<line x1="409.38" y1="163.7" x2="409.38" y2="166.2" stroke="#111" stroke-width="0.9"/>
<line x1="411.94" y1="163.7" x2="411.94" y2="166.2" stroke="#111" stroke-width="0.9"/>
<line x1="413.76" y1="163.7" x2="413.76" y2="166.2" stroke="#111" stroke-width="0.9"/>
<line x1="415.17" y1="163.7" x2="415.17" y2="166.6" stroke="#111" stroke-width="0.9"/>
<line x1="416.32" y1="163.7" x2="416.32" y2="166.2" stroke="#111" stroke-width="0.9"/>
<line x1="417.3" y1="163.7" x2="417.3" y2="166.2" stroke="#111" stroke-width="0.9"/>
<line x1="418.14" y1="163.7" x2="418.14" y2="166.2" stroke="#111" stroke-width="0.9"/>
<line x1="418.88" y1="163.7" x2="418.88" y2="166.2" stroke="#111" stroke-width="0.9"/>
<line x1="419.55" y1="163.7" x2="419.55" y2="167.2" stroke="#000" stroke-width="1"/>
<line x1="423.93" y1="163.7" x2="423.93" y2="166.2" stroke="#111" stroke-width="0.9"/>
<line x1="426.49" y1="163.7" x2="426.49" y2="166.2" stroke="#111" stroke-width="0.9"/>
<line x1="428.31" y1="163.7" x2="428.31" y2="166.2" stroke="#111" stroke-width="0.9"/>
<line x1="429.72" y1="163.7" x2="429.72" y2="166.6" stroke="#111" stroke-width="0.9"/>
<line x1="430.87" y1="163.7" x2="430.87" y2="166.2" stroke="#111" stroke-width="0.9"/>
<line x1="431.85" y1="163.7" x2="431.85" y2="166.2" stroke="#111" stroke-width="0.9"/>
<line x1="432.69" y1="163.7" x2="432.69" y2="166.2" stroke="#111" stroke-width="0.9"/>
<line x1="433.43" y1="163.7" x2="433.43" y2="166.2" stroke="#111" stroke-width="0.9"/>
<line x1="434.1" y1="163.7" x2="434.1" y2="167.2" stroke="#000" stroke-width="1"/>
<line x1="438.48" y1="163.7" x2="438.48" y2="166.2" stroke="#111" stroke-width="0.9"/>
<line x1="441.04" y1="163.7" x2="441.04" y2="166.2" stroke="#111" stroke-width="0.9"/>
<line x1="442.86" y1="163.7" x2="442.86" y2="166.2" stroke="#111" stroke-width="0.9"/>
<line x1="444.27" y1="163.7" x2="444.27" y2="166.6" stroke="#111" stroke-width="0.9"/>
<line x1="445.42" y1="163.7" x2="445.42" y2="166.2" stroke="#111" stroke-width="0.9"/>
<line x1="446.4" y1="163.7" x2="446.4" y2="166.2" stroke="#111" stroke-width="0.9"/>
<line x1="447.24" y1="163.7" x2="447.24" y2="166.2" stroke="#111" stroke-width="0.9"/>
<line x1="447.98" y1="163.7" x2="447.98" y2="166.2" stroke="#111" stroke-width="0.9"/>
<line x1="448.65" y1="163.7" x2="448.65" y2="167.2" stroke="#000" stroke-width="1"/>
<line x1="453.03" y1="163.7" x2="453.03" y2="166.2" stroke="#111" stroke-width="0.9"/>
<line x1="455.59" y1="163.7" x2="455.59" y2="166.2" stroke="#111" stroke-width="0.9"/>
<line x1="457.41" y1="163.7" x2="457.41" y2="166.2" stroke="#111" stroke-width="0.9"/>
<line x1="458.82" y1="163.7" x2="458.82" y2="166.6" stroke="#111" stroke-width="0.9"/>
<line x1="459.97" y1="163.7" x2="459.97" y2="166.2" stroke="#111" stroke-width="0.9"/>
<line x1="460.95" y1="163.7" x2="460.95" y2="166.2" stroke="#111" stroke-width="0.9"/>
<line x1="461.79" y1="163.7" x2="461.79" y2="166.2" stroke="#111" stroke-width="0.9"/>
<line x1="462.53" y1="163.7" x2="462.53" y2="166.2" stroke="#111" stroke-width="0.9"/>
<line x1="463.2" y1="163.7" x2="463.2" y2="167.2" stroke="#000" stroke-width="1"/>
<line x1="412.2" y1="128.4" x2="449.3" y2="128.4" stroke="#2a2a2a" stroke-width="1.2"/>
<line x1="412.2" y1="126.8" x2="412.2" y2="130" stroke="#2a2a2a" stroke-width="1"/>
<line x1="449.3" y1="126.8" x2="449.3" y2="130" stroke="#2a2a2a" stroke-width="1"/>
<text x="421" y="124.9" font-size="7.9" text-anchor="middle" textLength="15.7" lengthAdjust="spacingAndGlyphs" fill="#222" stroke="#222" stroke-width="0.18">95.8</text>
<text x="408" y="111.8" font-size="7.6" fill="#2a2a2a" stroke="#2a2a2a" stroke-width="0.18">vi</text>
<path d="M265,233.8 C270.17,233.8 298.27,233.8 303.8,233.8 C309.33,233.24 305.89,231.99 306.5,229.6 C307.11,227.21 307.85,222.87 308.4,215.9 C308.95,208.93 310.08,178.18 310.6,177.3 C311.12,176.42 311.85,202.33 312.3,209.3 C312.75,216.27 313.56,226.33 314,229.6 C314.44,232.87 314.11,233.24 315.6,233.8 C317.09,233.8 323.92,233.8 325.2,233.8" fill="none" stroke="#b0123c" stroke-width="1.45" stroke-linejoin="round"/>
<rect x="264.65" y="173.45" width="60.9" height="61.3" fill="none" stroke="#000" stroke-width="1.3"/>
<line x1="265" y1="234.9" x2="265" y2="238.4" stroke="#000" stroke-width="1"/>
<line x1="269.38" y1="234.9" x2="269.38" y2="237.4" stroke="#111" stroke-width="0.9"/>
<line x1="271.94" y1="234.9" x2="271.94" y2="237.4" stroke="#111" stroke-width="0.9"/>
<line x1="273.76" y1="234.9" x2="273.76" y2="237.4" stroke="#111" stroke-width="0.9"/>
<line x1="275.17" y1="234.9" x2="275.17" y2="237.8" stroke="#111" stroke-width="0.9"/>
<line x1="276.32" y1="234.9" x2="276.32" y2="237.4" stroke="#111" stroke-width="0.9"/>
<line x1="277.3" y1="234.9" x2="277.3" y2="237.4" stroke="#111" stroke-width="0.9"/>
<line x1="278.14" y1="234.9" x2="278.14" y2="237.4" stroke="#111" stroke-width="0.9"/>
<line x1="278.88" y1="234.9" x2="278.88" y2="237.4" stroke="#111" stroke-width="0.9"/>
<line x1="279.55" y1="234.9" x2="279.55" y2="238.4" stroke="#000" stroke-width="1"/>
<line x1="283.93" y1="234.9" x2="283.93" y2="237.4" stroke="#111" stroke-width="0.9"/>
<line x1="286.49" y1="234.9" x2="286.49" y2="237.4" stroke="#111" stroke-width="0.9"/>
<line x1="288.31" y1="234.9" x2="288.31" y2="237.4" stroke="#111" stroke-width="0.9"/>
<line x1="289.72" y1="234.9" x2="289.72" y2="237.8" stroke="#111" stroke-width="0.9"/>
<line x1="290.87" y1="234.9" x2="290.87" y2="237.4" stroke="#111" stroke-width="0.9"/>
<line x1="291.85" y1="234.9" x2="291.85" y2="237.4" stroke="#111" stroke-width="0.9"/>
<line x1="292.69" y1="234.9" x2="292.69" y2="237.4" stroke="#111" stroke-width="0.9"/>
<line x1="293.43" y1="234.9" x2="293.43" y2="237.4" stroke="#111" stroke-width="0.9"/>
<line x1="294.1" y1="234.9" x2="294.1" y2="238.4" stroke="#000" stroke-width="1"/>
<line x1="298.48" y1="234.9" x2="298.48" y2="237.4" stroke="#111" stroke-width="0.9"/>
<line x1="301.04" y1="234.9" x2="301.04" y2="237.4" stroke="#111" stroke-width="0.9"/>
<line x1="302.86" y1="234.9" x2="302.86" y2="237.4" stroke="#111" stroke-width="0.9"/>
<line x1="304.27" y1="234.9" x2="304.27" y2="237.8" stroke="#111" stroke-width="0.9"/>
<line x1="305.42" y1="234.9" x2="305.42" y2="237.4" stroke="#111" stroke-width="0.9"/>
<line x1="306.4" y1="234.9" x2="306.4" y2="237.4" stroke="#111" stroke-width="0.9"/>
<line x1="307.24" y1="234.9" x2="307.24" y2="237.4" stroke="#111" stroke-width="0.9"/>
<line x1="307.98" y1="234.9" x2="307.98" y2="237.4" stroke="#111" stroke-width="0.9"/>
<line x1="308.65" y1="234.9" x2="308.65" y2="238.4" stroke="#000" stroke-width="1"/>
<line x1="313.03" y1="234.9" x2="313.03" y2="237.4" stroke="#111" stroke-width="0.9"/>
<line x1="315.59" y1="234.9" x2="315.59" y2="237.4" stroke="#111" stroke-width="0.9"/>
<line x1="317.41" y1="234.9" x2="317.41" y2="237.4" stroke="#111" stroke-width="0.9"/>
<line x1="318.82" y1="234.9" x2="318.82" y2="237.8" stroke="#111" stroke-width="0.9"/>
<line x1="319.97" y1="234.9" x2="319.97" y2="237.4" stroke="#111" stroke-width="0.9"/>
<line x1="320.95" y1="234.9" x2="320.95" y2="237.4" stroke="#111" stroke-width="0.9"/>
<line x1="321.79" y1="234.9" x2="321.79" y2="237.4" stroke="#111" stroke-width="0.9"/>
<line x1="322.53" y1="234.9" x2="322.53" y2="237.4" stroke="#111" stroke-width="0.9"/>
<line x1="323.2" y1="234.9" x2="323.2" y2="238.4" stroke="#000" stroke-width="1"/>
<line x1="271.4" y1="199.8" x2="308.8" y2="199.8" stroke="#2a2a2a" stroke-width="1.2"/>
<line x1="271.4" y1="198.2" x2="271.4" y2="201.4" stroke="#2a2a2a" stroke-width="1"/>
<line x1="308.8" y1="198.2" x2="308.8" y2="201.4" stroke="#2a2a2a" stroke-width="1"/>
<text x="289.9" y="195.9" font-size="7.9" text-anchor="middle" textLength="10.8" lengthAdjust="spacingAndGlyphs" fill="#222" stroke="#222" stroke-width="0.18">9.7</text>
<text x="268" y="183.2" font-size="7.6" fill="#2a2a2a" stroke="#2a2a2a" stroke-width="0.18">vii</text>
<path d="M335,233.8 C337.67,233.75 351.67,233.49 355,233.4 C358.33,233.31 358.67,233.09 360,233.1 C361.33,233.11 363.51,233.41 365,233.5 C366.49,233.59 370.03,233.8 371.2,233.8 C372.37,233.45 373.19,231.46 373.8,230.9 C374.41,230.34 375.31,231.08 375.8,229.6 C376.29,228.12 377.03,223.55 377.5,219.8 C377.97,216.05 378.89,205.34 379.3,201.5 C379.71,197.66 380.2,194.4 380.6,191 C381,187.6 381.89,174.43 382.3,176 C382.71,177.57 383.34,195.56 383.7,202.8 C384.06,210.04 384.65,226.17 385,230.3 C385.35,233.8 384.94,233.33 386.3,233.8 C387.66,233.8 394.01,233.8 395.2,233.8" fill="none" stroke="#b0123c" stroke-width="1.45" stroke-linejoin="round"/>
<rect x="334.65" y="173.45" width="60.9" height="61.3" fill="none" stroke="#000" stroke-width="1.3"/>
<line x1="335" y1="234.9" x2="335" y2="238.4" stroke="#000" stroke-width="1"/>
<line x1="339.38" y1="234.9" x2="339.38" y2="237.4" stroke="#111" stroke-width="0.9"/>
<line x1="341.94" y1="234.9" x2="341.94" y2="237.4" stroke="#111" stroke-width="0.9"/>
<line x1="343.76" y1="234.9" x2="343.76" y2="237.4" stroke="#111" stroke-width="0.9"/>
<line x1="345.17" y1="234.9" x2="345.17" y2="237.8" stroke="#111" stroke-width="0.9"/>
<line x1="346.32" y1="234.9" x2="346.32" y2="237.4" stroke="#111" stroke-width="0.9"/>
<line x1="347.3" y1="234.9" x2="347.3" y2="237.4" stroke="#111" stroke-width="0.9"/>
<line x1="348.14" y1="234.9" x2="348.14" y2="237.4" stroke="#111" stroke-width="0.9"/>
<line x1="348.88" y1="234.9" x2="348.88" y2="237.4" stroke="#111" stroke-width="0.9"/>
<line x1="349.55" y1="234.9" x2="349.55" y2="238.4" stroke="#000" stroke-width="1"/>
<line x1="353.93" y1="234.9" x2="353.93" y2="237.4" stroke="#111" stroke-width="0.9"/>
<line x1="356.49" y1="234.9" x2="356.49" y2="237.4" stroke="#111" stroke-width="0.9"/>
<line x1="358.31" y1="234.9" x2="358.31" y2="237.4" stroke="#111" stroke-width="0.9"/>
<line x1="359.72" y1="234.9" x2="359.72" y2="237.8" stroke="#111" stroke-width="0.9"/>
<line x1="360.87" y1="234.9" x2="360.87" y2="237.4" stroke="#111" stroke-width="0.9"/>
<line x1="361.85" y1="234.9" x2="361.85" y2="237.4" stroke="#111" stroke-width="0.9"/>
<line x1="362.69" y1="234.9" x2="362.69" y2="237.4" stroke="#111" stroke-width="0.9"/>
<line x1="363.43" y1="234.9" x2="363.43" y2="237.4" stroke="#111" stroke-width="0.9"/>
<line x1="364.1" y1="234.9" x2="364.1" y2="238.4" stroke="#000" stroke-width="1"/>
<line x1="368.48" y1="234.9" x2="368.48" y2="237.4" stroke="#111" stroke-width="0.9"/>
<line x1="371.04" y1="234.9" x2="371.04" y2="237.4" stroke="#111" stroke-width="0.9"/>
<line x1="372.86" y1="234.9" x2="372.86" y2="237.4" stroke="#111" stroke-width="0.9"/>
<line x1="374.27" y1="234.9" x2="374.27" y2="237.8" stroke="#111" stroke-width="0.9"/>
<line x1="375.42" y1="234.9" x2="375.42" y2="237.4" stroke="#111" stroke-width="0.9"/>
<line x1="376.4" y1="234.9" x2="376.4" y2="237.4" stroke="#111" stroke-width="0.9"/>
<line x1="377.24" y1="234.9" x2="377.24" y2="237.4" stroke="#111" stroke-width="0.9"/>
<line x1="377.98" y1="234.9" x2="377.98" y2="237.4" stroke="#111" stroke-width="0.9"/>
<line x1="378.65" y1="234.9" x2="378.65" y2="238.4" stroke="#000" stroke-width="1"/>
<line x1="383.03" y1="234.9" x2="383.03" y2="237.4" stroke="#111" stroke-width="0.9"/>
<line x1="385.59" y1="234.9" x2="385.59" y2="237.4" stroke="#111" stroke-width="0.9"/>
<line x1="387.41" y1="234.9" x2="387.41" y2="237.4" stroke="#111" stroke-width="0.9"/>
<line x1="388.82" y1="234.9" x2="388.82" y2="237.8" stroke="#111" stroke-width="0.9"/>
<line x1="389.97" y1="234.9" x2="389.97" y2="237.4" stroke="#111" stroke-width="0.9"/>
<line x1="390.95" y1="234.9" x2="390.95" y2="237.4" stroke="#111" stroke-width="0.9"/>
<line x1="391.79" y1="234.9" x2="391.79" y2="237.4" stroke="#111" stroke-width="0.9"/>
<line x1="392.53" y1="234.9" x2="392.53" y2="237.4" stroke="#111" stroke-width="0.9"/>
<line x1="393.2" y1="234.9" x2="393.2" y2="238.4" stroke="#000" stroke-width="1"/>
<line x1="341.8" y1="199.8" x2="378.8" y2="199.8" stroke="#2a2a2a" stroke-width="1.2"/>
<line x1="341.8" y1="198.2" x2="341.8" y2="201.4" stroke="#2a2a2a" stroke-width="1"/>
<line x1="378.8" y1="198.2" x2="378.8" y2="201.4" stroke="#2a2a2a" stroke-width="1"/>
<text x="360.1" y="195.9" font-size="7.9" text-anchor="middle" textLength="14.4" lengthAdjust="spacingAndGlyphs" fill="#222" stroke="#222" stroke-width="0.18">15.1</text>
<text x="338" y="183.2" font-size="7.6" fill="#2a2a2a" stroke="#2a2a2a" stroke-width="0.18">viii</text>
<path d="M405,233.8 C408.69,233.8 428.66,233.8 432.7,233.8 C436.74,233.41 434.69,231.46 435.3,230.9 C435.91,230.34 436.77,230.64 437.3,229.6 C437.83,228.56 438.86,223.62 439.3,223.1 C439.74,222.58 440.13,226.14 440.6,225.7 C441.07,225.26 442.28,219.72 442.8,219.8 C443.32,219.88 443.93,226.47 444.5,226.3 C445.07,226.13 446.53,221.63 447.1,218.5 C447.67,215.37 448.33,208.29 448.8,202.8 C449.27,197.31 450.13,176.43 450.6,177.3 C451.07,178.17 451.85,202.23 452.3,209.3 C452.75,216.37 453.56,227.03 454,230.3 C454.44,233.57 454.11,233.33 455.6,233.8 C457.09,233.8 463.92,233.8 465.2,233.8" fill="none" stroke="#b0123c" stroke-width="1.45" stroke-linejoin="round"/>
<rect x="404.65" y="173.45" width="60.9" height="61.3" fill="none" stroke="#000" stroke-width="1.3"/>
<line x1="405" y1="234.9" x2="405" y2="238.4" stroke="#000" stroke-width="1"/>
<line x1="409.38" y1="234.9" x2="409.38" y2="237.4" stroke="#111" stroke-width="0.9"/>
<line x1="411.94" y1="234.9" x2="411.94" y2="237.4" stroke="#111" stroke-width="0.9"/>
<line x1="413.76" y1="234.9" x2="413.76" y2="237.4" stroke="#111" stroke-width="0.9"/>
<line x1="415.17" y1="234.9" x2="415.17" y2="237.8" stroke="#111" stroke-width="0.9"/>
<line x1="416.32" y1="234.9" x2="416.32" y2="237.4" stroke="#111" stroke-width="0.9"/>
<line x1="417.3" y1="234.9" x2="417.3" y2="237.4" stroke="#111" stroke-width="0.9"/>
<line x1="418.14" y1="234.9" x2="418.14" y2="237.4" stroke="#111" stroke-width="0.9"/>
<line x1="418.88" y1="234.9" x2="418.88" y2="237.4" stroke="#111" stroke-width="0.9"/>
<line x1="419.55" y1="234.9" x2="419.55" y2="238.4" stroke="#000" stroke-width="1"/>
<line x1="423.93" y1="234.9" x2="423.93" y2="237.4" stroke="#111" stroke-width="0.9"/>
<line x1="426.49" y1="234.9" x2="426.49" y2="237.4" stroke="#111" stroke-width="0.9"/>
<line x1="428.31" y1="234.9" x2="428.31" y2="237.4" stroke="#111" stroke-width="0.9"/>
<line x1="429.72" y1="234.9" x2="429.72" y2="237.8" stroke="#111" stroke-width="0.9"/>
<line x1="430.87" y1="234.9" x2="430.87" y2="237.4" stroke="#111" stroke-width="0.9"/>
<line x1="431.85" y1="234.9" x2="431.85" y2="237.4" stroke="#111" stroke-width="0.9"/>
<line x1="432.69" y1="234.9" x2="432.69" y2="237.4" stroke="#111" stroke-width="0.9"/>
<line x1="433.43" y1="234.9" x2="433.43" y2="237.4" stroke="#111" stroke-width="0.9"/>
<line x1="434.1" y1="234.9" x2="434.1" y2="238.4" stroke="#000" stroke-width="1"/>
<line x1="438.48" y1="234.9" x2="438.48" y2="237.4" stroke="#111" stroke-width="0.9"/>
<line x1="441.04" y1="234.9" x2="441.04" y2="237.4" stroke="#111" stroke-width="0.9"/>
<line x1="442.86" y1="234.9" x2="442.86" y2="237.4" stroke="#111" stroke-width="0.9"/>
<line x1="444.27" y1="234.9" x2="444.27" y2="237.8" stroke="#111" stroke-width="0.9"/>
<line x1="445.42" y1="234.9" x2="445.42" y2="237.4" stroke="#111" stroke-width="0.9"/>
<line x1="446.4" y1="234.9" x2="446.4" y2="237.4" stroke="#111" stroke-width="0.9"/>
<line x1="447.24" y1="234.9" x2="447.24" y2="237.4" stroke="#111" stroke-width="0.9"/>
<line x1="447.98" y1="234.9" x2="447.98" y2="237.4" stroke="#111" stroke-width="0.9"/>
<line x1="448.65" y1="234.9" x2="448.65" y2="238.4" stroke="#000" stroke-width="1"/>
<line x1="453.03" y1="234.9" x2="453.03" y2="237.4" stroke="#111" stroke-width="0.9"/>
<line x1="455.59" y1="234.9" x2="455.59" y2="237.4" stroke="#111" stroke-width="0.9"/>
<line x1="457.41" y1="234.9" x2="457.41" y2="237.4" stroke="#111" stroke-width="0.9"/>
<line x1="458.82" y1="234.9" x2="458.82" y2="237.8" stroke="#111" stroke-width="0.9"/>
<line x1="459.97" y1="234.9" x2="459.97" y2="237.4" stroke="#111" stroke-width="0.9"/>
<line x1="460.95" y1="234.9" x2="460.95" y2="237.4" stroke="#111" stroke-width="0.9"/>
<line x1="461.79" y1="234.9" x2="461.79" y2="237.4" stroke="#111" stroke-width="0.9"/>
<line x1="462.53" y1="234.9" x2="462.53" y2="237.4" stroke="#111" stroke-width="0.9"/>
<line x1="463.2" y1="234.9" x2="463.2" y2="238.4" stroke="#000" stroke-width="1"/>
<line x1="412.2" y1="199.8" x2="449.1" y2="199.8" stroke="#2a2a2a" stroke-width="1.2"/>
<line x1="412.2" y1="198.2" x2="412.2" y2="201.4" stroke="#2a2a2a" stroke-width="1"/>
<line x1="449.1" y1="198.2" x2="449.1" y2="201.4" stroke="#2a2a2a" stroke-width="1"/>
<text x="430.6" y="195.9" font-size="7.9" text-anchor="middle" textLength="15.5" lengthAdjust="spacingAndGlyphs" fill="#222" stroke="#222" stroke-width="0.18">43.9</text>
<text x="408" y="183.2" font-size="7.6" fill="#2a2a2a" stroke="#2a2a2a" stroke-width="0.18">ix</text>
<path d="M265,305 C268.35,305 286.41,305 290.1,305 C293.79,304.55 292.09,302.41 292.7,301.6 C293.31,300.79 294.17,299.39 294.7,298.9 C295.23,298.41 296.18,298.67 296.7,297.9 C297.22,297.13 298.13,293.31 298.6,293.1 C299.07,292.89 299.71,296.83 300.2,296.3 C300.69,295.77 301.78,289.41 302.3,289.1 C302.82,288.79 303.63,293.83 304.1,294 C304.57,294.17 305.35,291.48 305.8,290.4 C306.25,289.32 307.1,288.07 307.5,285.9 C307.9,283.73 308.39,279.25 308.8,274.1 C309.21,268.95 310.17,247.3 310.6,247.3 C311.03,247.3 311.64,266.86 312,274.1 C312.36,281.34 312.99,297.48 313.3,301.6 C313.61,305 312.71,304.55 314.3,305 C315.89,305 323.75,305 325.2,305" fill="none" stroke="#b0123c" stroke-width="1.45" stroke-linejoin="round"/>
<rect x="264.65" y="244.85" width="60.9" height="61.1" fill="none" stroke="#000" stroke-width="1.3"/>
<line x1="265" y1="306.1" x2="265" y2="309.6" stroke="#000" stroke-width="1"/>
<line x1="269.38" y1="306.1" x2="269.38" y2="308.6" stroke="#111" stroke-width="0.9"/>
<line x1="271.94" y1="306.1" x2="271.94" y2="308.6" stroke="#111" stroke-width="0.9"/>
<line x1="273.76" y1="306.1" x2="273.76" y2="308.6" stroke="#111" stroke-width="0.9"/>
<line x1="275.17" y1="306.1" x2="275.17" y2="309" stroke="#111" stroke-width="0.9"/>
<line x1="276.32" y1="306.1" x2="276.32" y2="308.6" stroke="#111" stroke-width="0.9"/>
<line x1="277.3" y1="306.1" x2="277.3" y2="308.6" stroke="#111" stroke-width="0.9"/>
<line x1="278.14" y1="306.1" x2="278.14" y2="308.6" stroke="#111" stroke-width="0.9"/>
<line x1="278.88" y1="306.1" x2="278.88" y2="308.6" stroke="#111" stroke-width="0.9"/>
<line x1="279.55" y1="306.1" x2="279.55" y2="309.6" stroke="#000" stroke-width="1"/>
<line x1="283.93" y1="306.1" x2="283.93" y2="308.6" stroke="#111" stroke-width="0.9"/>
<line x1="286.49" y1="306.1" x2="286.49" y2="308.6" stroke="#111" stroke-width="0.9"/>
<line x1="288.31" y1="306.1" x2="288.31" y2="308.6" stroke="#111" stroke-width="0.9"/>
<line x1="289.72" y1="306.1" x2="289.72" y2="309" stroke="#111" stroke-width="0.9"/>
<line x1="290.87" y1="306.1" x2="290.87" y2="308.6" stroke="#111" stroke-width="0.9"/>
<line x1="291.85" y1="306.1" x2="291.85" y2="308.6" stroke="#111" stroke-width="0.9"/>
<line x1="292.69" y1="306.1" x2="292.69" y2="308.6" stroke="#111" stroke-width="0.9"/>
<line x1="293.43" y1="306.1" x2="293.43" y2="308.6" stroke="#111" stroke-width="0.9"/>
<line x1="294.1" y1="306.1" x2="294.1" y2="309.6" stroke="#000" stroke-width="1"/>
<line x1="298.48" y1="306.1" x2="298.48" y2="308.6" stroke="#111" stroke-width="0.9"/>
<line x1="301.04" y1="306.1" x2="301.04" y2="308.6" stroke="#111" stroke-width="0.9"/>
<line x1="302.86" y1="306.1" x2="302.86" y2="308.6" stroke="#111" stroke-width="0.9"/>
<line x1="304.27" y1="306.1" x2="304.27" y2="309" stroke="#111" stroke-width="0.9"/>
<line x1="305.42" y1="306.1" x2="305.42" y2="308.6" stroke="#111" stroke-width="0.9"/>
<line x1="306.4" y1="306.1" x2="306.4" y2="308.6" stroke="#111" stroke-width="0.9"/>
<line x1="307.24" y1="306.1" x2="307.24" y2="308.6" stroke="#111" stroke-width="0.9"/>
<line x1="307.98" y1="306.1" x2="307.98" y2="308.6" stroke="#111" stroke-width="0.9"/>
<line x1="308.65" y1="306.1" x2="308.65" y2="309.6" stroke="#000" stroke-width="1"/>
<line x1="313.03" y1="306.1" x2="313.03" y2="308.6" stroke="#111" stroke-width="0.9"/>
<line x1="315.59" y1="306.1" x2="315.59" y2="308.6" stroke="#111" stroke-width="0.9"/>
<line x1="317.41" y1="306.1" x2="317.41" y2="308.6" stroke="#111" stroke-width="0.9"/>
<line x1="318.82" y1="306.1" x2="318.82" y2="309" stroke="#111" stroke-width="0.9"/>
<line x1="319.97" y1="306.1" x2="319.97" y2="308.6" stroke="#111" stroke-width="0.9"/>
<line x1="320.95" y1="306.1" x2="320.95" y2="308.6" stroke="#111" stroke-width="0.9"/>
<line x1="321.79" y1="306.1" x2="321.79" y2="308.6" stroke="#111" stroke-width="0.9"/>
<line x1="322.53" y1="306.1" x2="322.53" y2="308.6" stroke="#111" stroke-width="0.9"/>
<line x1="323.2" y1="306.1" x2="323.2" y2="309.6" stroke="#000" stroke-width="1"/>
<line x1="271.2" y1="270.8" x2="308.4" y2="270.8" stroke="#2a2a2a" stroke-width="1.2"/>
<line x1="271.2" y1="269.2" x2="271.2" y2="272.4" stroke="#2a2a2a" stroke-width="1"/>
<line x1="308.4" y1="269.2" x2="308.4" y2="272.4" stroke="#2a2a2a" stroke-width="1"/>
<text x="289.6" y="267.5" font-size="7.9" text-anchor="middle" textLength="8.7" lengthAdjust="spacingAndGlyphs" fill="#222" stroke="#222" stroke-width="0.18">45</text>
<text x="268" y="254.6" font-size="7.6" fill="#2a2a2a" stroke="#2a2a2a" stroke-width="0.18">x</text>
<path d="M335,305 C339,304.96 360.33,304.78 365,304.7 C369.67,304.62 368.64,304.36 370,304.4 C371.36,304.44 374.25,305 375.2,305 C376.15,304.53 376.62,303.81 377.1,300.9 C377.58,297.99 378.33,290.09 378.8,283.2 C379.27,276.31 380.13,253.99 380.6,249.2 C381.07,244.41 381.89,243.98 382.3,247.3 C382.71,250.62 383.34,267.13 383.7,274.1 C384.06,281.07 384.65,295.48 385,299.6 C385.35,303.72 384.94,304.28 386.3,305 C387.66,305 394.01,305 395.2,305" fill="none" stroke="#b0123c" stroke-width="1.45" stroke-linejoin="round"/>
<rect x="334.65" y="244.85" width="60.9" height="61.1" fill="none" stroke="#000" stroke-width="1.3"/>
<line x1="335" y1="306.1" x2="335" y2="309.6" stroke="#000" stroke-width="1"/>
<line x1="339.38" y1="306.1" x2="339.38" y2="308.6" stroke="#111" stroke-width="0.9"/>
<line x1="341.94" y1="306.1" x2="341.94" y2="308.6" stroke="#111" stroke-width="0.9"/>
<line x1="343.76" y1="306.1" x2="343.76" y2="308.6" stroke="#111" stroke-width="0.9"/>
<line x1="345.17" y1="306.1" x2="345.17" y2="309" stroke="#111" stroke-width="0.9"/>
<line x1="346.32" y1="306.1" x2="346.32" y2="308.6" stroke="#111" stroke-width="0.9"/>
<line x1="347.3" y1="306.1" x2="347.3" y2="308.6" stroke="#111" stroke-width="0.9"/>
<line x1="348.14" y1="306.1" x2="348.14" y2="308.6" stroke="#111" stroke-width="0.9"/>
<line x1="348.88" y1="306.1" x2="348.88" y2="308.6" stroke="#111" stroke-width="0.9"/>
<line x1="349.55" y1="306.1" x2="349.55" y2="309.6" stroke="#000" stroke-width="1"/>
<line x1="353.93" y1="306.1" x2="353.93" y2="308.6" stroke="#111" stroke-width="0.9"/>
<line x1="356.49" y1="306.1" x2="356.49" y2="308.6" stroke="#111" stroke-width="0.9"/>
<line x1="358.31" y1="306.1" x2="358.31" y2="308.6" stroke="#111" stroke-width="0.9"/>
<line x1="359.72" y1="306.1" x2="359.72" y2="309" stroke="#111" stroke-width="0.9"/>
<line x1="360.87" y1="306.1" x2="360.87" y2="308.6" stroke="#111" stroke-width="0.9"/>
<line x1="361.85" y1="306.1" x2="361.85" y2="308.6" stroke="#111" stroke-width="0.9"/>
<line x1="362.69" y1="306.1" x2="362.69" y2="308.6" stroke="#111" stroke-width="0.9"/>
<line x1="363.43" y1="306.1" x2="363.43" y2="308.6" stroke="#111" stroke-width="0.9"/>
<line x1="364.1" y1="306.1" x2="364.1" y2="309.6" stroke="#000" stroke-width="1"/>
<line x1="368.48" y1="306.1" x2="368.48" y2="308.6" stroke="#111" stroke-width="0.9"/>
<line x1="371.04" y1="306.1" x2="371.04" y2="308.6" stroke="#111" stroke-width="0.9"/>
<line x1="372.86" y1="306.1" x2="372.86" y2="308.6" stroke="#111" stroke-width="0.9"/>
<line x1="374.27" y1="306.1" x2="374.27" y2="309" stroke="#111" stroke-width="0.9"/>
<line x1="375.42" y1="306.1" x2="375.42" y2="308.6" stroke="#111" stroke-width="0.9"/>
<line x1="376.4" y1="306.1" x2="376.4" y2="308.6" stroke="#111" stroke-width="0.9"/>
<line x1="377.24" y1="306.1" x2="377.24" y2="308.6" stroke="#111" stroke-width="0.9"/>
<line x1="377.98" y1="306.1" x2="377.98" y2="308.6" stroke="#111" stroke-width="0.9"/>
<line x1="378.65" y1="306.1" x2="378.65" y2="309.6" stroke="#000" stroke-width="1"/>
<line x1="383.03" y1="306.1" x2="383.03" y2="308.6" stroke="#111" stroke-width="0.9"/>
<line x1="385.59" y1="306.1" x2="385.59" y2="308.6" stroke="#111" stroke-width="0.9"/>
<line x1="387.41" y1="306.1" x2="387.41" y2="308.6" stroke="#111" stroke-width="0.9"/>
<line x1="388.82" y1="306.1" x2="388.82" y2="309" stroke="#111" stroke-width="0.9"/>
<line x1="389.97" y1="306.1" x2="389.97" y2="308.6" stroke="#111" stroke-width="0.9"/>
<line x1="390.95" y1="306.1" x2="390.95" y2="308.6" stroke="#111" stroke-width="0.9"/>
<line x1="391.79" y1="306.1" x2="391.79" y2="308.6" stroke="#111" stroke-width="0.9"/>
<line x1="392.53" y1="306.1" x2="392.53" y2="308.6" stroke="#111" stroke-width="0.9"/>
<line x1="393.2" y1="306.1" x2="393.2" y2="309.6" stroke="#000" stroke-width="1"/>
<line x1="341.8" y1="270.8" x2="379.1" y2="270.8" stroke="#2a2a2a" stroke-width="1.2"/>
<line x1="341.8" y1="269.2" x2="341.8" y2="272.4" stroke="#2a2a2a" stroke-width="1"/>
<line x1="379.1" y1="269.2" x2="379.1" y2="272.4" stroke="#2a2a2a" stroke-width="1"/>
<text x="360.3" y="267.5" font-size="7.9" text-anchor="middle" textLength="15.3" lengthAdjust="spacingAndGlyphs" fill="#222" stroke="#222" stroke-width="0.18">3.82</text>
<text x="338" y="254.6" font-size="7.6" fill="#2a2a2a" stroke="#2a2a2a" stroke-width="0.18">xi</text>
<path d="M405,305 C407.91,305 423.63,305 426.8,305 C429.97,304.19 428.36,301.27 428.8,298.9 C429.24,296.53 429.75,290.33 430.1,287.2 C430.45,284.07 431.11,277.76 431.4,275.4 C431.69,273.04 432.07,269.33 432.3,269.5 C432.53,269.67 432.87,276.53 433.1,276.7 C433.33,276.87 433.71,274.81 434,270.8 C434.29,266.79 434.94,248.25 435.3,246.6 C435.66,244.95 436.34,254.04 436.7,258.4 C437.06,262.76 437.6,277.38 438,279.3 C438.4,281.22 439.3,271.23 439.7,272.8 C440.1,274.37 440.65,288.31 441,291.1 C441.35,293.89 441.95,293.18 442.3,293.7 C442.65,294.22 443.25,294.13 443.6,295 C443.95,295.87 444.26,299.41 444.9,300.2 C445.54,300.99 447.67,301.59 448.4,300.9 C449.13,300.21 449.92,295.27 450.4,295 C450.88,294.73 451.61,297.57 452,298.9 C452.39,300.23 451.54,304.19 453.3,305 C455.06,305 463.61,305 465.2,305" fill="none" stroke="#b0123c" stroke-width="1.45" stroke-linejoin="round"/>
<rect x="404.65" y="244.85" width="60.9" height="61.1" fill="none" stroke="#000" stroke-width="1.3"/>
<line x1="405" y1="306.1" x2="405" y2="309.6" stroke="#000" stroke-width="1"/>
<line x1="409.38" y1="306.1" x2="409.38" y2="308.6" stroke="#111" stroke-width="0.9"/>
<line x1="411.94" y1="306.1" x2="411.94" y2="308.6" stroke="#111" stroke-width="0.9"/>
<line x1="413.76" y1="306.1" x2="413.76" y2="308.6" stroke="#111" stroke-width="0.9"/>
<line x1="415.17" y1="306.1" x2="415.17" y2="309" stroke="#111" stroke-width="0.9"/>
<line x1="416.32" y1="306.1" x2="416.32" y2="308.6" stroke="#111" stroke-width="0.9"/>
<line x1="417.3" y1="306.1" x2="417.3" y2="308.6" stroke="#111" stroke-width="0.9"/>
<line x1="418.14" y1="306.1" x2="418.14" y2="308.6" stroke="#111" stroke-width="0.9"/>
<line x1="418.88" y1="306.1" x2="418.88" y2="308.6" stroke="#111" stroke-width="0.9"/>
<line x1="419.55" y1="306.1" x2="419.55" y2="309.6" stroke="#000" stroke-width="1"/>
<line x1="423.93" y1="306.1" x2="423.93" y2="308.6" stroke="#111" stroke-width="0.9"/>
<line x1="426.49" y1="306.1" x2="426.49" y2="308.6" stroke="#111" stroke-width="0.9"/>
<line x1="428.31" y1="306.1" x2="428.31" y2="308.6" stroke="#111" stroke-width="0.9"/>
<line x1="429.72" y1="306.1" x2="429.72" y2="309" stroke="#111" stroke-width="0.9"/>
<line x1="430.87" y1="306.1" x2="430.87" y2="308.6" stroke="#111" stroke-width="0.9"/>
<line x1="431.85" y1="306.1" x2="431.85" y2="308.6" stroke="#111" stroke-width="0.9"/>
<line x1="432.69" y1="306.1" x2="432.69" y2="308.6" stroke="#111" stroke-width="0.9"/>
<line x1="433.43" y1="306.1" x2="433.43" y2="308.6" stroke="#111" stroke-width="0.9"/>
<line x1="434.1" y1="306.1" x2="434.1" y2="309.6" stroke="#000" stroke-width="1"/>
<line x1="438.48" y1="306.1" x2="438.48" y2="308.6" stroke="#111" stroke-width="0.9"/>
<line x1="441.04" y1="306.1" x2="441.04" y2="308.6" stroke="#111" stroke-width="0.9"/>
<line x1="442.86" y1="306.1" x2="442.86" y2="308.6" stroke="#111" stroke-width="0.9"/>
<line x1="444.27" y1="306.1" x2="444.27" y2="309" stroke="#111" stroke-width="0.9"/>
<line x1="445.42" y1="306.1" x2="445.42" y2="308.6" stroke="#111" stroke-width="0.9"/>
<line x1="446.4" y1="306.1" x2="446.4" y2="308.6" stroke="#111" stroke-width="0.9"/>
<line x1="447.24" y1="306.1" x2="447.24" y2="308.6" stroke="#111" stroke-width="0.9"/>
<line x1="447.98" y1="306.1" x2="447.98" y2="308.6" stroke="#111" stroke-width="0.9"/>
<line x1="448.65" y1="306.1" x2="448.65" y2="309.6" stroke="#000" stroke-width="1"/>
<line x1="453.03" y1="306.1" x2="453.03" y2="308.6" stroke="#111" stroke-width="0.9"/>
<line x1="455.59" y1="306.1" x2="455.59" y2="308.6" stroke="#111" stroke-width="0.9"/>
<line x1="457.41" y1="306.1" x2="457.41" y2="308.6" stroke="#111" stroke-width="0.9"/>
<line x1="458.82" y1="306.1" x2="458.82" y2="309" stroke="#111" stroke-width="0.9"/>
<line x1="459.97" y1="306.1" x2="459.97" y2="308.6" stroke="#111" stroke-width="0.9"/>
<line x1="460.95" y1="306.1" x2="460.95" y2="308.6" stroke="#111" stroke-width="0.9"/>
<line x1="461.79" y1="306.1" x2="461.79" y2="308.6" stroke="#111" stroke-width="0.9"/>
<line x1="462.53" y1="306.1" x2="462.53" y2="308.6" stroke="#111" stroke-width="0.9"/>
<line x1="463.2" y1="306.1" x2="463.2" y2="309.6" stroke="#000" stroke-width="1"/>
<line x1="411.8" y1="270.8" x2="448.8" y2="270.8" stroke="#2a2a2a" stroke-width="1.2"/>
<line x1="411.8" y1="269.2" x2="411.8" y2="272.4" stroke="#2a2a2a" stroke-width="1"/>
<line x1="448.8" y1="269.2" x2="448.8" y2="272.4" stroke="#2a2a2a" stroke-width="1"/>
<text x="423.7" y="267.5" font-size="7.9" text-anchor="middle" textLength="16.1" lengthAdjust="spacingAndGlyphs" fill="#222" stroke="#222" stroke-width="0.18">93.6</text>
<text x="408" y="254.6" font-size="7.6" fill="#2a2a2a" stroke="#2a2a2a" stroke-width="0.18">xii</text>
<path d="M265,380.3 C267.56,380.3 281.28,380.3 284.2,380.3 C287.12,379.98 286.18,378.94 286.9,377.9 C287.62,376.86 289.05,374.3 289.6,372.5 C290.15,370.7 290.59,365.65 291,364.4 C291.41,363.15 292.34,365.07 292.7,363.1 C293.06,361.13 293.45,352.03 293.7,349.6 C293.95,347.17 294.24,344.01 294.6,344.9 C294.96,345.79 295.93,358.94 296.4,356.3 C296.87,353.66 297.62,324.91 298.1,325.1 C298.58,325.29 299.52,356.14 300,357.7 C300.48,359.26 301.23,336.8 301.7,336.8 C302.17,336.8 303.05,355.01 303.5,357.7 C303.95,360.39 304.7,356.28 305.1,357 C305.5,357.72 306.1,362.02 306.5,363.1 C306.9,364.18 307.66,364.57 308.1,365.1 C308.54,365.63 309.33,365.39 309.8,367.1 C310.27,368.81 311.15,376.19 311.6,377.9 C312.05,379.61 312.63,379.69 313.2,379.9 C313.77,380.11 315.33,379.45 315.9,379.5 C316.47,379.55 316.39,380.19 317.5,380.3 C318.61,380.3 323.31,380.3 324.2,380.3" fill="none" stroke="#b0123c" stroke-width="1.45" stroke-linejoin="round"/>
<rect x="264.65" y="322.95" width="59.9" height="58.3" fill="none" stroke="#000" stroke-width="1.3"/>
<line x1="260.5" y1="381.3" x2="264" y2="381.3" stroke="#111" stroke-width="1"/>
<line x1="262.3" y1="377.86" x2="264" y2="377.86" stroke="#222" stroke-width="0.8"/>
<line x1="262.3" y1="374.42" x2="264" y2="374.42" stroke="#222" stroke-width="0.8"/>
<line x1="262.3" y1="370.98" x2="264" y2="370.98" stroke="#222" stroke-width="0.8"/>
<line x1="262.3" y1="367.54" x2="264" y2="367.54" stroke="#222" stroke-width="0.8"/>
<line x1="261" y1="364.1" x2="264" y2="364.1" stroke="#111" stroke-width="1"/>
<line x1="262.3" y1="360.66" x2="264" y2="360.66" stroke="#222" stroke-width="0.8"/>
<line x1="262.3" y1="357.22" x2="264" y2="357.22" stroke="#222" stroke-width="0.8"/>
<line x1="262.3" y1="353.78" x2="264" y2="353.78" stroke="#222" stroke-width="0.8"/>
<line x1="262.3" y1="350.34" x2="264" y2="350.34" stroke="#222" stroke-width="0.8"/>
<line x1="261" y1="346.9" x2="264" y2="346.9" stroke="#111" stroke-width="1"/>
<line x1="262.3" y1="343.46" x2="264" y2="343.46" stroke="#222" stroke-width="0.8"/>
<line x1="262.3" y1="340.02" x2="264" y2="340.02" stroke="#222" stroke-width="0.8"/>
<line x1="262.3" y1="336.58" x2="264" y2="336.58" stroke="#222" stroke-width="0.8"/>
<line x1="262.3" y1="333.14" x2="264" y2="333.14" stroke="#222" stroke-width="0.8"/>
<line x1="261" y1="329.7" x2="264" y2="329.7" stroke="#111" stroke-width="1"/>
<line x1="262.3" y1="326.26" x2="264" y2="326.26" stroke="#222" stroke-width="0.8"/>
<line x1="271.5" y1="347.9" x2="308.5" y2="347.9" stroke="#2a2a2a" stroke-width="1.2"/>
<line x1="271.5" y1="346.3" x2="271.5" y2="349.5" stroke="#2a2a2a" stroke-width="1"/>
<line x1="308.5" y1="346.3" x2="308.5" y2="349.5" stroke="#2a2a2a" stroke-width="1"/>
<text x="283.2" y="344.2" font-size="7.9" text-anchor="middle" textLength="15.5" lengthAdjust="spacingAndGlyphs" fill="#222" stroke="#222" stroke-width="0.18">90.5</text>
<text x="268" y="330.3" font-size="7.6" fill="#2a2a2a" stroke="#2a2a2a" stroke-width="0.18">xiii</text>
<path d="M335,380.3 C337.75,380.3 352.4,380.3 355.6,380.3 C358.8,379.79 358.28,377.37 359,376.5 C359.72,375.63 360.43,375.59 361,373.8 C361.57,372.01 362.71,364.93 363.3,363.1 C363.89,361.27 364.91,362.26 365.4,360.1 C365.89,357.94 366.65,350.1 367,346.9 C367.35,343.7 367.73,336.46 368,336.1 C368.27,335.74 368.73,342.57 369,344.2 C369.27,345.83 369.64,350.99 370,348.3 C370.36,345.61 371.19,324 371.7,324 C372.21,324 373.25,345.97 373.8,348.3 C374.35,350.63 375.41,341.33 375.8,341.5 C376.19,341.67 376.43,347.08 376.7,349.6 C376.97,352.12 377.44,358.96 377.8,360.4 C378.16,361.84 378.95,359.33 379.4,360.4 C379.85,361.47 380.79,366.07 381.2,368.4 C381.61,370.73 382.09,376.31 382.5,377.9 C382.91,379.49 382.74,379.98 384.3,380.3 C385.86,380.3 392.88,380.3 394.2,380.3" fill="none" stroke="#b0123c" stroke-width="1.45" stroke-linejoin="round"/>
<rect x="334.65" y="322.95" width="59.9" height="58.3" fill="none" stroke="#000" stroke-width="1.3"/>
<line x1="330.5" y1="381.3" x2="334" y2="381.3" stroke="#111" stroke-width="1"/>
<line x1="332.3" y1="377.86" x2="334" y2="377.86" stroke="#222" stroke-width="0.8"/>
<line x1="332.3" y1="374.42" x2="334" y2="374.42" stroke="#222" stroke-width="0.8"/>
<line x1="332.3" y1="370.98" x2="334" y2="370.98" stroke="#222" stroke-width="0.8"/>
<line x1="332.3" y1="367.54" x2="334" y2="367.54" stroke="#222" stroke-width="0.8"/>
<line x1="331" y1="364.1" x2="334" y2="364.1" stroke="#111" stroke-width="1"/>
<line x1="332.3" y1="360.66" x2="334" y2="360.66" stroke="#222" stroke-width="0.8"/>
<line x1="332.3" y1="357.22" x2="334" y2="357.22" stroke="#222" stroke-width="0.8"/>
<line x1="332.3" y1="353.78" x2="334" y2="353.78" stroke="#222" stroke-width="0.8"/>
<line x1="332.3" y1="350.34" x2="334" y2="350.34" stroke="#222" stroke-width="0.8"/>
<line x1="331" y1="346.9" x2="334" y2="346.9" stroke="#111" stroke-width="1"/>
<line x1="332.3" y1="343.46" x2="334" y2="343.46" stroke="#222" stroke-width="0.8"/>
<line x1="332.3" y1="340.02" x2="334" y2="340.02" stroke="#222" stroke-width="0.8"/>
<line x1="332.3" y1="336.58" x2="334" y2="336.58" stroke="#222" stroke-width="0.8"/>
<line x1="332.3" y1="333.14" x2="334" y2="333.14" stroke="#222" stroke-width="0.8"/>
<line x1="331" y1="329.7" x2="334" y2="329.7" stroke="#111" stroke-width="1"/>
<line x1="332.3" y1="326.26" x2="334" y2="326.26" stroke="#222" stroke-width="0.8"/>
<line x1="341.2" y1="347.9" x2="378.1" y2="347.9" stroke="#2a2a2a" stroke-width="1.2"/>
<line x1="341.2" y1="346.3" x2="341.2" y2="349.5" stroke="#2a2a2a" stroke-width="1"/>
<line x1="378.1" y1="346.3" x2="378.1" y2="349.5" stroke="#2a2a2a" stroke-width="1"/>
<text x="356.4" y="344.2" font-size="7.9" text-anchor="middle" textLength="15.8" lengthAdjust="spacingAndGlyphs" fill="#222" stroke="#222" stroke-width="0.18">87.2</text>
<text x="338" y="330.3" font-size="7.6" fill="#2a2a2a" stroke="#2a2a2a" stroke-width="0.18">xiv</text>
<path d="M405,380.3 C407.21,380.3 419.04,380.3 421.6,380.3 C424.16,379.43 423.57,375.73 424.2,373.8 C424.83,371.87 425.81,367.23 426.3,365.8 C426.79,364.37 427.51,365.62 427.9,363.1 C428.29,360.58 428.79,351.49 429.2,346.9 C429.61,342.31 430.53,329.33 431,328.7 C431.47,328.07 432.26,342.73 432.7,342.2 C433.14,341.67 433.86,324.07 434.3,324.7 C434.74,325.33 435.64,342.69 436,346.9 C436.36,351.11 436.68,355.94 437,356.3 C437.32,356.66 438,348.16 438.4,349.6 C438.8,351.04 439.61,365.22 440,367.1 C440.39,368.98 440.89,362.81 441.3,363.7 C441.71,364.59 442.59,372.36 443.1,373.8 C443.61,375.24 444.62,374.14 445.1,374.5 C445.58,374.86 446.07,376.23 446.7,376.5 C447.33,376.77 449.12,376.1 449.8,376.5 C450.48,376.9 451.31,378.99 451.8,379.5 C452.29,380.01 451.85,380.19 453.5,380.3 C455.15,380.3 462.77,380.3 464.2,380.3" fill="none" stroke="#b0123c" stroke-width="1.45" stroke-linejoin="round"/>
<rect x="404.65" y="322.95" width="59.9" height="58.3" fill="none" stroke="#000" stroke-width="1.3"/>
<line x1="400.5" y1="381.3" x2="404" y2="381.3" stroke="#111" stroke-width="1"/>
<line x1="402.3" y1="377.86" x2="404" y2="377.86" stroke="#222" stroke-width="0.8"/>
<line x1="402.3" y1="374.42" x2="404" y2="374.42" stroke="#222" stroke-width="0.8"/>
<line x1="402.3" y1="370.98" x2="404" y2="370.98" stroke="#222" stroke-width="0.8"/>
<line x1="402.3" y1="367.54" x2="404" y2="367.54" stroke="#222" stroke-width="0.8"/>
<line x1="401" y1="364.1" x2="404" y2="364.1" stroke="#111" stroke-width="1"/>
<line x1="402.3" y1="360.66" x2="404" y2="360.66" stroke="#222" stroke-width="0.8"/>
<line x1="402.3" y1="357.22" x2="404" y2="357.22" stroke="#222" stroke-width="0.8"/>
<line x1="402.3" y1="353.78" x2="404" y2="353.78" stroke="#222" stroke-width="0.8"/>
<line x1="402.3" y1="350.34" x2="404" y2="350.34" stroke="#222" stroke-width="0.8"/>
<line x1="401" y1="346.9" x2="404" y2="346.9" stroke="#111" stroke-width="1"/>
<line x1="402.3" y1="343.46" x2="404" y2="343.46" stroke="#222" stroke-width="0.8"/>
<line x1="402.3" y1="340.02" x2="404" y2="340.02" stroke="#222" stroke-width="0.8"/>
<line x1="402.3" y1="336.58" x2="404" y2="336.58" stroke="#222" stroke-width="0.8"/>
<line x1="402.3" y1="333.14" x2="404" y2="333.14" stroke="#222" stroke-width="0.8"/>
<line x1="401" y1="329.7" x2="404" y2="329.7" stroke="#111" stroke-width="1"/>
<line x1="402.3" y1="326.26" x2="404" y2="326.26" stroke="#222" stroke-width="0.8"/>
<line x1="411.2" y1="346.9" x2="448.1" y2="346.9" stroke="#2a2a2a" stroke-width="1.2"/>
<line x1="411.2" y1="345.3" x2="411.2" y2="348.5" stroke="#2a2a2a" stroke-width="1"/>
<line x1="448.1" y1="345.3" x2="448.1" y2="348.5" stroke="#2a2a2a" stroke-width="1"/>
<text x="419.7" y="343.8" font-size="7.9" text-anchor="middle" textLength="15.2" lengthAdjust="spacingAndGlyphs" fill="#222" stroke="#222" stroke-width="0.18">97.3</text>
<text x="408" y="330.3" font-size="7.6" fill="#2a2a2a" stroke="#2a2a2a" stroke-width="0.18">xv</text>
<path d="M265,446.3 C267.39,446.3 280.15,446.3 282.9,446.3 C285.65,445.98 284.88,444.41 285.6,443.9 C286.32,443.39 287.63,443.49 288.3,442.5 C288.97,441.51 290.01,436.77 290.6,436.5 C291.19,436.23 292.17,440.69 292.7,440.5 C293.23,440.31 294.05,435.1 294.6,435.1 C295.15,435.1 296.29,440.59 296.8,440.5 C297.31,440.41 297.97,434.67 298.4,434.4 C298.83,434.13 299.61,439.57 300,438.5 C300.39,437.43 300.94,427.75 301.3,426.4 C301.66,425.05 302.34,428.76 302.7,428.4 C303.06,428.04 303.64,426.93 304,423.7 C304.36,420.47 305.04,405.55 305.4,404.2 C305.76,402.85 306.38,413.79 306.7,413.6 C307.02,413.41 307.51,405.91 307.8,402.8 C308.09,399.69 308.61,391.1 308.9,390.3 C309.19,389.5 309.69,391.81 310,396.8 C310.31,401.79 310.87,421.25 311.2,427.7 C311.53,434.15 311.87,442.72 312.5,445.2 C313.13,446.3 314.34,446.15 315.9,446.3 C317.46,446.3 323.09,446.3 324.2,446.3" fill="none" stroke="#b0123c" stroke-width="1.45" stroke-linejoin="round"/>
<rect x="264.65" y="389.15" width="59.9" height="58.1" fill="none" stroke="#000" stroke-width="1.3"/>
<line x1="260.5" y1="447.3" x2="264" y2="447.3" stroke="#111" stroke-width="1"/>
<line x1="262.3" y1="443.86" x2="264" y2="443.86" stroke="#222" stroke-width="0.8"/>
<line x1="262.3" y1="440.42" x2="264" y2="440.42" stroke="#222" stroke-width="0.8"/>
<line x1="262.3" y1="436.98" x2="264" y2="436.98" stroke="#222" stroke-width="0.8"/>
<line x1="262.3" y1="433.54" x2="264" y2="433.54" stroke="#222" stroke-width="0.8"/>
<line x1="261" y1="430.1" x2="264" y2="430.1" stroke="#111" stroke-width="1"/>
<line x1="262.3" y1="426.66" x2="264" y2="426.66" stroke="#222" stroke-width="0.8"/>
<line x1="262.3" y1="423.22" x2="264" y2="423.22" stroke="#222" stroke-width="0.8"/>
<line x1="262.3" y1="419.78" x2="264" y2="419.78" stroke="#222" stroke-width="0.8"/>
<line x1="262.3" y1="416.34" x2="264" y2="416.34" stroke="#222" stroke-width="0.8"/>
<line x1="261" y1="412.9" x2="264" y2="412.9" stroke="#111" stroke-width="1"/>
<line x1="262.3" y1="409.46" x2="264" y2="409.46" stroke="#222" stroke-width="0.8"/>
<line x1="262.3" y1="406.02" x2="264" y2="406.02" stroke="#222" stroke-width="0.8"/>
<line x1="262.3" y1="402.58" x2="264" y2="402.58" stroke="#222" stroke-width="0.8"/>
<line x1="262.3" y1="399.14" x2="264" y2="399.14" stroke="#222" stroke-width="0.8"/>
<line x1="261" y1="395.7" x2="264" y2="395.7" stroke="#111" stroke-width="1"/>
<line x1="262.3" y1="392.26" x2="264" y2="392.26" stroke="#222" stroke-width="0.8"/>
<line x1="270.8" y1="414.3" x2="307.5" y2="414.3" stroke="#2a2a2a" stroke-width="1.2"/>
<line x1="270.8" y1="412.7" x2="270.8" y2="415.9" stroke="#2a2a2a" stroke-width="1"/>
<line x1="307.5" y1="412.7" x2="307.5" y2="415.9" stroke="#2a2a2a" stroke-width="1"/>
<text x="289" y="410.9" font-size="7.9" text-anchor="middle" textLength="15.9" lengthAdjust="spacingAndGlyphs" fill="#222" stroke="#222" stroke-width="0.18">63.6</text>
<text x="268" y="396.5" font-size="7.6" fill="#2a2a2a" stroke="#2a2a2a" stroke-width="0.18">xvi</text>
<path d="M335,446.3 C337.48,446.3 350.68,446.3 353.6,446.3 C356.52,446.06 356.15,444.86 356.9,444.5 C357.65,444.14 358.65,444.13 359.2,443.6 C359.75,443.07 360.49,440.55 361,440.5 C361.51,440.45 362.47,443.37 363,443.2 C363.53,443.03 364.49,439.39 365,439.2 C365.51,439.01 366.27,441.72 366.8,441.8 C367.33,441.88 368.47,439.88 369,439.8 C369.53,439.72 370.44,441.83 370.8,441.2 C371.16,440.57 371.3,435.82 371.7,435.1 C372.1,434.38 373.35,437.68 373.8,435.8 C374.25,433.92 374.78,423.69 375.1,421 C375.42,418.31 375.91,414.88 376.2,415.6 C376.49,416.32 377.05,426.4 377.3,426.4 C377.55,426.4 377.82,420.31 378.1,415.6 C378.38,410.89 378.99,390.38 379.4,391.1 C379.81,391.82 380.79,413.88 381.2,421 C381.61,428.12 381.86,441.13 382.5,444.5 C383.14,446.3 384.44,446.06 386,446.3 C387.56,446.3 393.11,446.3 394.2,446.3" fill="none" stroke="#b0123c" stroke-width="1.45" stroke-linejoin="round"/>
<rect x="334.65" y="389.15" width="59.9" height="58.1" fill="none" stroke="#000" stroke-width="1.3"/>
<line x1="330.5" y1="447.3" x2="334" y2="447.3" stroke="#111" stroke-width="1"/>
<line x1="332.3" y1="443.86" x2="334" y2="443.86" stroke="#222" stroke-width="0.8"/>
<line x1="332.3" y1="440.42" x2="334" y2="440.42" stroke="#222" stroke-width="0.8"/>
<line x1="332.3" y1="436.98" x2="334" y2="436.98" stroke="#222" stroke-width="0.8"/>
<line x1="332.3" y1="433.54" x2="334" y2="433.54" stroke="#222" stroke-width="0.8"/>
<line x1="331" y1="430.1" x2="334" y2="430.1" stroke="#111" stroke-width="1"/>
<line x1="332.3" y1="426.66" x2="334" y2="426.66" stroke="#222" stroke-width="0.8"/>
<line x1="332.3" y1="423.22" x2="334" y2="423.22" stroke="#222" stroke-width="0.8"/>
<line x1="332.3" y1="419.78" x2="334" y2="419.78" stroke="#222" stroke-width="0.8"/>
<line x1="332.3" y1="416.34" x2="334" y2="416.34" stroke="#222" stroke-width="0.8"/>
<line x1="331" y1="412.9" x2="334" y2="412.9" stroke="#111" stroke-width="1"/>
<line x1="332.3" y1="409.46" x2="334" y2="409.46" stroke="#222" stroke-width="0.8"/>
<line x1="332.3" y1="406.02" x2="334" y2="406.02" stroke="#222" stroke-width="0.8"/>
<line x1="332.3" y1="402.58" x2="334" y2="402.58" stroke="#222" stroke-width="0.8"/>
<line x1="332.3" y1="399.14" x2="334" y2="399.14" stroke="#222" stroke-width="0.8"/>
<line x1="331" y1="395.7" x2="334" y2="395.7" stroke="#111" stroke-width="1"/>
<line x1="332.3" y1="392.26" x2="334" y2="392.26" stroke="#222" stroke-width="0.8"/>
<line x1="341.1" y1="414.3" x2="378.1" y2="414.3" stroke="#2a2a2a" stroke-width="1.2"/>
<line x1="341.1" y1="412.7" x2="341.1" y2="415.9" stroke="#2a2a2a" stroke-width="1"/>
<line x1="378.1" y1="412.7" x2="378.1" y2="415.9" stroke="#2a2a2a" stroke-width="1"/>
<text x="359.6" y="410.9" font-size="7.9" text-anchor="middle" textLength="15.3" lengthAdjust="spacingAndGlyphs" fill="#222" stroke="#222" stroke-width="0.18">54.9</text>
<text x="338" y="396.5" font-size="7.6" fill="#2a2a2a" stroke="#2a2a2a" stroke-width="0.18">xvii</text>
<path d="M405,446.3 C407.29,446.3 419.64,446.3 422.2,446.3 C424.76,445.07 423.65,439.58 424.2,437.1 C424.75,434.62 425.81,429.22 426.3,427.7 C426.79,426.18 427.54,428.03 427.9,425.7 C428.26,423.37 428.72,413.97 429,410.2 C429.28,406.43 429.73,398.75 430,397.4 C430.27,396.05 430.69,397.41 431,400.1 C431.31,402.79 431.99,417.68 432.3,417.6 C432.61,417.52 433.06,403.09 433.3,399.5 C433.54,395.91 433.82,389.37 434.1,390.7 C434.38,392.03 435.04,405.61 435.4,409.5 C435.76,413.39 436.44,419.98 436.8,419.9 C437.16,419.82 437.81,409.47 438.1,408.9 C438.39,408.33 438.69,412.91 439,415.6 C439.31,418.29 440.04,428.47 440.4,429.1 C440.76,429.73 441.34,420.66 441.7,420.3 C442.06,419.94 442.74,425.23 443.1,426.4 C443.46,427.57 444.04,428.66 444.4,429.1 C444.76,429.54 445.49,428.9 445.8,429.7 C446.11,430.5 446.34,434.19 446.7,435.1 C447.06,436.01 447.99,435.51 448.5,436.5 C449.01,437.49 449.97,441.19 450.5,442.5 C451.03,443.81 450.67,445.79 452.5,446.3 C454.33,446.3 462.64,446.3 464.2,446.3" fill="none" stroke="#b0123c" stroke-width="1.45" stroke-linejoin="round"/>
<rect x="404.65" y="389.15" width="59.9" height="58.1" fill="none" stroke="#000" stroke-width="1.3"/>
<line x1="400.5" y1="447.3" x2="404" y2="447.3" stroke="#111" stroke-width="1"/>
<line x1="402.3" y1="443.86" x2="404" y2="443.86" stroke="#222" stroke-width="0.8"/>
<line x1="402.3" y1="440.42" x2="404" y2="440.42" stroke="#222" stroke-width="0.8"/>
<line x1="402.3" y1="436.98" x2="404" y2="436.98" stroke="#222" stroke-width="0.8"/>
<line x1="402.3" y1="433.54" x2="404" y2="433.54" stroke="#222" stroke-width="0.8"/>
<line x1="401" y1="430.1" x2="404" y2="430.1" stroke="#111" stroke-width="1"/>
<line x1="402.3" y1="426.66" x2="404" y2="426.66" stroke="#222" stroke-width="0.8"/>
<line x1="402.3" y1="423.22" x2="404" y2="423.22" stroke="#222" stroke-width="0.8"/>
<line x1="402.3" y1="419.78" x2="404" y2="419.78" stroke="#222" stroke-width="0.8"/>
<line x1="402.3" y1="416.34" x2="404" y2="416.34" stroke="#222" stroke-width="0.8"/>
<line x1="401" y1="412.9" x2="404" y2="412.9" stroke="#111" stroke-width="1"/>
<line x1="402.3" y1="409.46" x2="404" y2="409.46" stroke="#222" stroke-width="0.8"/>
<line x1="402.3" y1="406.02" x2="404" y2="406.02" stroke="#222" stroke-width="0.8"/>
<line x1="402.3" y1="402.58" x2="404" y2="402.58" stroke="#222" stroke-width="0.8"/>
<line x1="402.3" y1="399.14" x2="404" y2="399.14" stroke="#222" stroke-width="0.8"/>
<line x1="401" y1="395.7" x2="404" y2="395.7" stroke="#111" stroke-width="1"/>
<line x1="402.3" y1="392.26" x2="404" y2="392.26" stroke="#222" stroke-width="0.8"/>
<line x1="411.1" y1="414.7" x2="448.1" y2="414.7" stroke="#2a2a2a" stroke-width="1.2"/>
<line x1="411.1" y1="413.1" x2="411.1" y2="416.3" stroke="#2a2a2a" stroke-width="1"/>
<line x1="448.1" y1="413.1" x2="448.1" y2="416.3" stroke="#2a2a2a" stroke-width="1"/>
<text x="419.3" y="410.9" font-size="7.9" text-anchor="middle" textLength="15.2" lengthAdjust="spacingAndGlyphs" fill="#222" stroke="#222" stroke-width="0.18">95.2</text>
<text x="408" y="396.5" font-size="7.6" fill="#2a2a2a" stroke="#2a2a2a" stroke-width="0.18">xviii</text>
<text x="264.6" y="460.4" font-size="10.6" textLength="17.4" lengthAdjust="spacingAndGlyphs" fill="#1c1c1c" stroke="#1c1c1c" stroke-width="0.18">CFSE</text>
<line x1="285.8" y1="457.4" x2="306.5" y2="457.4" stroke="#111" stroke-width="1.2"/>
<polygon points="305.3,455.1 311.6,457.4 305.3,459.7" fill="#111"/>
<text x="7.2" y="211" font-size="10.7" textLength="8.8" lengthAdjust="spacingAndGlyphs" font-weight="bold" fill="#111">C</text>
<line x1="56.2" y1="215" x2="56.2" y2="327.9" stroke="#2a2a2a" stroke-width="1.5"/>
<line x1="55.5" y1="327.2" x2="204.6" y2="327.2" stroke="#2a2a2a" stroke-width="1.6"/>
<line x1="52.8" y1="218.4" x2="56.2" y2="218.4" stroke="#2a2a2a" stroke-width="1.1"/>
<text x="49.2" y="221.5" font-size="8.6" text-anchor="end" textLength="13.2" lengthAdjust="spacingAndGlyphs" fill="#1c1c1c" stroke="#1c1c1c" stroke-width="0.18">100</text>
<line x1="52.8" y1="272.8" x2="56.2" y2="272.8" stroke="#2a2a2a" stroke-width="1.1"/>
<text x="49.2" y="275.9" font-size="8.6" text-anchor="end" textLength="8.8" lengthAdjust="spacingAndGlyphs" fill="#1c1c1c" stroke="#1c1c1c" stroke-width="0.18">50</text>
<line x1="52.8" y1="327.2" x2="56.2" y2="327.2" stroke="#2a2a2a" stroke-width="1.1"/>
<text x="49.2" y="330.3" font-size="8.6" text-anchor="end" textLength="4.4" lengthAdjust="spacingAndGlyphs" fill="#1c1c1c" stroke="#1c1c1c" stroke-width="0.18">0</text>
<line x1="80.3" y1="327.2" x2="80.3" y2="330.4" stroke="#2a2a2a" stroke-width="1"/>
<line x1="130.1" y1="327.2" x2="130.1" y2="330.4" stroke="#2a2a2a" stroke-width="1"/>
<line x1="180" y1="327.2" x2="180" y2="330.4" stroke="#2a2a2a" stroke-width="1"/>
<text x="80" y="341.4" font-size="8.6" text-anchor="middle" textLength="43.6" lengthAdjust="spacingAndGlyphs" fill="#1c1c1c" stroke="#1c1c1c" stroke-width="0.18">MDSC-IL13</text>
<text x="130.3" y="341.4" font-size="8.6" text-anchor="middle" textLength="28.6" lengthAdjust="spacingAndGlyphs" fill="#1c1c1c" stroke="#1c1c1c" stroke-width="0.18">ASC ko</text>
<text x="180.2" y="341.4" font-size="8.6" text-anchor="middle" textLength="31.8" lengthAdjust="spacingAndGlyphs" fill="#1c1c1c" stroke="#1c1c1c" stroke-width="0.18">IL-1R ko</text>
<text transform="translate(29.3,271.2) rotate(-90)" font-size="10.4" text-anchor="middle" fill="#1c1c1c" stroke="#1c1c1c" stroke-width="0.18" textLength="55.3" lengthAdjust="spacingAndGlyphs">CD8, % divided</text>
<line x1="64.55" y1="277.5" x2="64.55" y2="267.2" stroke="#222" stroke-width="1.1"/>
<line x1="62.45" y1="267.6" x2="66.65" y2="267.6" stroke="#222" stroke-width="1.1"/>
<rect x="60" y="277.5" width="9.1" height="49.1" fill="#a8002f"/>
<line x1="75.1" y1="246.1" x2="75.1" y2="241.4" stroke="#222" stroke-width="1.1"/>
<line x1="73" y1="241.8" x2="77.2" y2="241.8" stroke="#222" stroke-width="1.1"/>
<rect x="70.8" y="246.1" width="8.6" height="80.5" fill="#2c4b80"/>
<line x1="85.4" y1="318.6" x2="85.4" y2="316.7" stroke="#222" stroke-width="1.1"/>
<line x1="83.3" y1="317.1" x2="87.5" y2="317.1" stroke="#222" stroke-width="1.1"/>
<rect x="81.1" y="318.6" width="8.6" height="8" fill="#6aad45"/>
<line x1="95.7" y1="286.3" x2="95.7" y2="279.6" stroke="#222" stroke-width="1.1"/>
<line x1="93.6" y1="280" x2="97.8" y2="280" stroke="#222" stroke-width="1.1"/>
<rect x="91.4" y="286.3" width="8.6" height="40.3" fill="#532469"/>
<line x1="114.6" y1="311" x2="114.6" y2="298.8" stroke="#222" stroke-width="1.1"/>
<line x1="112.5" y1="299.2" x2="116.7" y2="299.2" stroke="#222" stroke-width="1.1"/>
<rect x="110.3" y="311" width="8.6" height="15.6" fill="#a8002f"/>
<line x1="125.25" y1="321" x2="125.25" y2="318" stroke="#222" stroke-width="1.1"/>
<line x1="123.15" y1="318.4" x2="127.35" y2="318.4" stroke="#222" stroke-width="1.1"/>
<rect x="121" y="321" width="8.5" height="5.6" fill="#2c4b80"/>
<line x1="135.7" y1="319.4" x2="135.7" y2="311.7" stroke="#222" stroke-width="1.1"/>
<line x1="133.6" y1="312.1" x2="137.8" y2="312.1" stroke="#222" stroke-width="1.1"/>
<rect x="131.4" y="319.4" width="8.6" height="7.2" fill="#6aad45"/>
<line x1="145.85" y1="323" x2="145.85" y2="321.5" stroke="#222" stroke-width="1.1"/>
<line x1="143.75" y1="321.9" x2="147.95" y2="321.9" stroke="#222" stroke-width="1.1"/>
<rect x="141.7" y="323" width="8.3" height="3.6" fill="#532469"/>
<line x1="164.5" y1="258.8" x2="164.5" y2="243.8" stroke="#222" stroke-width="1.1"/>
<line x1="162.4" y1="244.2" x2="166.6" y2="244.2" stroke="#222" stroke-width="1.1"/>
<rect x="160.3" y="258.8" width="8.4" height="67.8" fill="#a8002f"/>
<line x1="174.8" y1="225.3" x2="174.8" y2="223" stroke="#222" stroke-width="1.1"/>
<line x1="172.7" y1="223.4" x2="176.9" y2="223.4" stroke="#222" stroke-width="1.1"/>
<rect x="170.6" y="225.3" width="8.4" height="101.3" fill="#2c4b80"/>
<line x1="185.3" y1="279.9" x2="185.3" y2="270.3" stroke="#222" stroke-width="1.1"/>
<line x1="183.2" y1="270.7" x2="187.4" y2="270.7" stroke="#222" stroke-width="1.1"/>
<rect x="181.1" y="279.9" width="8.4" height="46.7" fill="#6aad45"/>
<line x1="195.6" y1="226" x2="195.6" y2="223" stroke="#222" stroke-width="1.1"/>
<line x1="193.5" y1="223.4" x2="197.7" y2="223.4" stroke="#222" stroke-width="1.1"/>
<rect x="191.4" y="226" width="8.4" height="100.6" fill="#532469"/>
<line x1="61.5" y1="229.6" x2="73.5" y2="229.6" stroke="#222" stroke-width="1.1"/>
<line x1="61.9" y1="227.8" x2="61.9" y2="231.4" stroke="#222" stroke-width="1"/>
<line x1="73.1" y1="227.8" x2="73.1" y2="231.4" stroke="#222" stroke-width="1"/>
<text x="67.5" y="229.2" font-size="9.5" text-anchor="middle" fill="#1c1c1c" stroke="#1c1c1c" stroke-width="0.18">**</text>
<line x1="73.5" y1="218.4" x2="174.8" y2="218.4" stroke="#222" stroke-width="1.1"/>
<line x1="73.9" y1="216.6" x2="73.9" y2="220.2" stroke="#222" stroke-width="1"/>
<line x1="174.4" y1="216.6" x2="174.4" y2="220.2" stroke="#222" stroke-width="1"/>
<text x="124.3" y="218.2" font-size="9.5" text-anchor="middle" fill="#1c1c1c" stroke="#1c1c1c" stroke-width="0.18">**</text>
<line x1="164.4" y1="209.4" x2="184.3" y2="209.4" stroke="#222" stroke-width="1.1"/>
<line x1="164.8" y1="207.6" x2="164.8" y2="211.2" stroke="#222" stroke-width="1"/>
<line x1="183.9" y1="207.6" x2="183.9" y2="211.2" stroke="#222" stroke-width="1"/>
<text x="174.5" y="207.6" font-size="7.2" text-anchor="middle" textLength="7" lengthAdjust="spacingAndGlyphs" fill="#1c1c1c" stroke="#1c1c1c" stroke-width="0.18">ns</text>
<rect x="67.8" y="355.3" width="9.4" height="4.8" fill="#a8002f"/>
<rect x="67.8" y="367.2" width="9.4" height="4.9" fill="#2c4b80"/>
<rect x="123.4" y="355.3" width="10" height="4.8" fill="#6aad45"/>
<rect x="123.4" y="367.2" width="10" height="4.9" fill="#532469"/>
<text x="81" y="360.1" font-size="7.8" textLength="28.9" lengthAdjust="spacingAndGlyphs" fill="#1c1c1c" stroke="#1c1c1c" stroke-width="0.18">baseline</text>
<text x="81" y="372.2" font-size="7.8" textLength="31.7" lengthAdjust="spacingAndGlyphs" fill="#1c1c1c" stroke="#1c1c1c" stroke-width="0.18">LPS+ATP</text>
<text x="136.8" y="360.1" font-size="7.8" textLength="18.9" lengthAdjust="spacingAndGlyphs" fill="#1c1c1c" stroke="#1c1c1c" stroke-width="0.18">+ IL-1</text>
<text x="136.8" y="372.3" font-size="7.8" textLength="55" lengthAdjust="spacingAndGlyphs" fill="#1c1c1c" stroke="#1c1c1c" stroke-width="0.18">LPS+ATP + IL-1</text>
<text x="6.8" y="400.6" font-size="11.3" textLength="10.3" lengthAdjust="spacingAndGlyphs" font-weight="bold" fill="#111">D</text>
<line x1="56.2" y1="404.2" x2="56.2" y2="502.4" stroke="#2a2a2a" stroke-width="1.5"/>
<line x1="55.5" y1="501.8" x2="184.6" y2="501.8" stroke="#2a2a2a" stroke-width="1.6"/>
<line x1="52.8" y1="407.3" x2="56.2" y2="407.3" stroke="#2a2a2a" stroke-width="1.1"/>
<text x="49.2" y="410.4" font-size="8.6" text-anchor="end" textLength="13.4" lengthAdjust="spacingAndGlyphs" fill="#1c1c1c" stroke="#1c1c1c" stroke-width="0.18">100</text>
<line x1="52.8" y1="454.5" x2="56.2" y2="454.5" stroke="#2a2a2a" stroke-width="1.1"/>
<text x="49.2" y="457.6" font-size="8.6" text-anchor="end" textLength="8.8" lengthAdjust="spacingAndGlyphs" fill="#1c1c1c" stroke="#1c1c1c" stroke-width="0.18">50</text>
<line x1="52.8" y1="501.7" x2="56.2" y2="501.7" stroke="#2a2a2a" stroke-width="1.1"/>
<text x="49.2" y="504.8" font-size="8.6" text-anchor="end" textLength="4.4" lengthAdjust="spacingAndGlyphs" fill="#1c1c1c" stroke="#1c1c1c" stroke-width="0.18">0</text>
<line x1="78.5" y1="501.7" x2="78.5" y2="504.7" stroke="#2a2a2a" stroke-width="1"/>
<line x1="120.6" y1="501.7" x2="120.6" y2="504.7" stroke="#2a2a2a" stroke-width="1"/>
<line x1="162.5" y1="501.7" x2="162.5" y2="504.7" stroke="#2a2a2a" stroke-width="1"/>
<text x="78.9" y="516" font-size="8.7" text-anchor="middle" textLength="44.4" lengthAdjust="spacingAndGlyphs" fill="#1c1c1c" stroke="#1c1c1c" stroke-width="0.18">MDSC-IL13</text>
<text x="120.75" y="516" font-size="8.7" text-anchor="middle" textLength="28.9" lengthAdjust="spacingAndGlyphs" fill="#1c1c1c" stroke="#1c1c1c" stroke-width="0.18">ASC ko</text>
<text x="162" y="516" font-size="8.7" text-anchor="middle" textLength="31.8" lengthAdjust="spacingAndGlyphs" fill="#1c1c1c" stroke="#1c1c1c" stroke-width="0.18">IL-1R ko</text>
<text transform="translate(29.3,452.6) rotate(-90)" font-size="10.4" text-anchor="middle" fill="#1c1c1c" stroke="#1c1c1c" stroke-width="0.18" textLength="54.6" lengthAdjust="spacingAndGlyphs">CD8, % divided</text>
<line x1="69.9" y1="413.8" x2="69.9" y2="411.2" stroke="#222" stroke-width="1.1"/>
<line x1="67.3" y1="411.6" x2="72.5" y2="411.6" stroke="#222" stroke-width="1.1"/>
<rect x="62.9" y="413.8" width="14" height="87.3" fill="#a8002f"/>
<line x1="87.15" y1="436.2" x2="87.15" y2="423.3" stroke="#222" stroke-width="1.1"/>
<line x1="84.55" y1="423.7" x2="89.75" y2="423.7" stroke="#222" stroke-width="1.1"/>
<rect x="80.4" y="436.2" width="13.5" height="64.9" fill="#6aad45"/>
<line x1="111.7" y1="416" x2="111.7" y2="412.2" stroke="#222" stroke-width="1.1"/>
<line x1="109.1" y1="412.6" x2="114.3" y2="412.6" stroke="#222" stroke-width="1.1"/>
<rect x="104.7" y="416" width="14" height="85.1" fill="#a8002f"/>
<line x1="129" y1="444.8" x2="129" y2="437.3" stroke="#222" stroke-width="1.1"/>
<line x1="126.4" y1="437.7" x2="131.6" y2="437.7" stroke="#222" stroke-width="1.1"/>
<rect x="122.2" y="444.8" width="13.6" height="56.3" fill="#6aad45"/>
<line x1="153.4" y1="410.3" x2="153.4" y2="409" stroke="#222" stroke-width="1.1"/>
<line x1="150.8" y1="409.4" x2="156" y2="409.4" stroke="#222" stroke-width="1.1"/>
<rect x="146.4" y="410.3" width="14" height="90.8" fill="#a8002f"/>
<line x1="170.65" y1="411.7" x2="170.65" y2="410.5" stroke="#222" stroke-width="1.1"/>
<line x1="168.05" y1="410.9" x2="173.25" y2="410.9" stroke="#222" stroke-width="1.1"/>
<rect x="163.9" y="411.7" width="13.5" height="89.4" fill="#6aad45"/>
<line x1="88" y1="397" x2="173.1" y2="397" stroke="#222" stroke-width="1.1"/>
<line x1="88.4" y1="395.2" x2="88.4" y2="398.8" stroke="#222" stroke-width="1"/>
<line x1="172.7" y1="395.2" x2="172.7" y2="398.8" stroke="#222" stroke-width="1"/>
<text x="130.8" y="396.6" font-size="9.5" text-anchor="middle" fill="#1c1c1c" stroke="#1c1c1c" stroke-width="0.18">*</text>
<line x1="129.7" y1="405.7" x2="173.1" y2="405.7" stroke="#222" stroke-width="1.1"/>
<line x1="130.1" y1="403.9" x2="130.1" y2="407.5" stroke="#222" stroke-width="1"/>
<line x1="172.7" y1="403.9" x2="172.7" y2="407.5" stroke="#222" stroke-width="1"/>
<text x="151.4" y="405" font-size="9.5" text-anchor="middle" fill="#1c1c1c" stroke="#1c1c1c" stroke-width="0.18">**</text>
<rect x="78.1" y="530" width="9.2" height="4.4" fill="#a8002f"/>
<text x="90.2" y="534.8" font-size="7.8" textLength="29.4" lengthAdjust="spacingAndGlyphs" fill="#1c1c1c" stroke="#1c1c1c" stroke-width="0.18">baseline</text>
<rect x="130" y="530" width="8.3" height="4.4" fill="#6aad45"/>
<text x="141.7" y="534.8" font-size="7.8" textLength="20.3" lengthAdjust="spacingAndGlyphs" fill="#1c1c1c" stroke="#1c1c1c" stroke-width="0.18">+ IL-1</text>
<rect x="1" y="1" width="518" height="1" fill="#dcdcdc"/>
<rect x="1" y="542" width="518" height="1" fill="#c3c3c3"/>
<rect x="1" y="1" width="1" height="542" fill="#d7d7d7"/>
<rect x="518" y="1" width="1" height="542" fill="#aaaaaa"/>
<rect x="0" y="0" width="520" height="1" fill="#000"/>
<rect x="0" y="543" width="520" height="1" fill="#000"/>
<rect x="0" y="0" width="1" height="544" fill="#000"/>
<rect x="519" y="0" width="1" height="544" fill="#000"/>
</svg></body></html>
